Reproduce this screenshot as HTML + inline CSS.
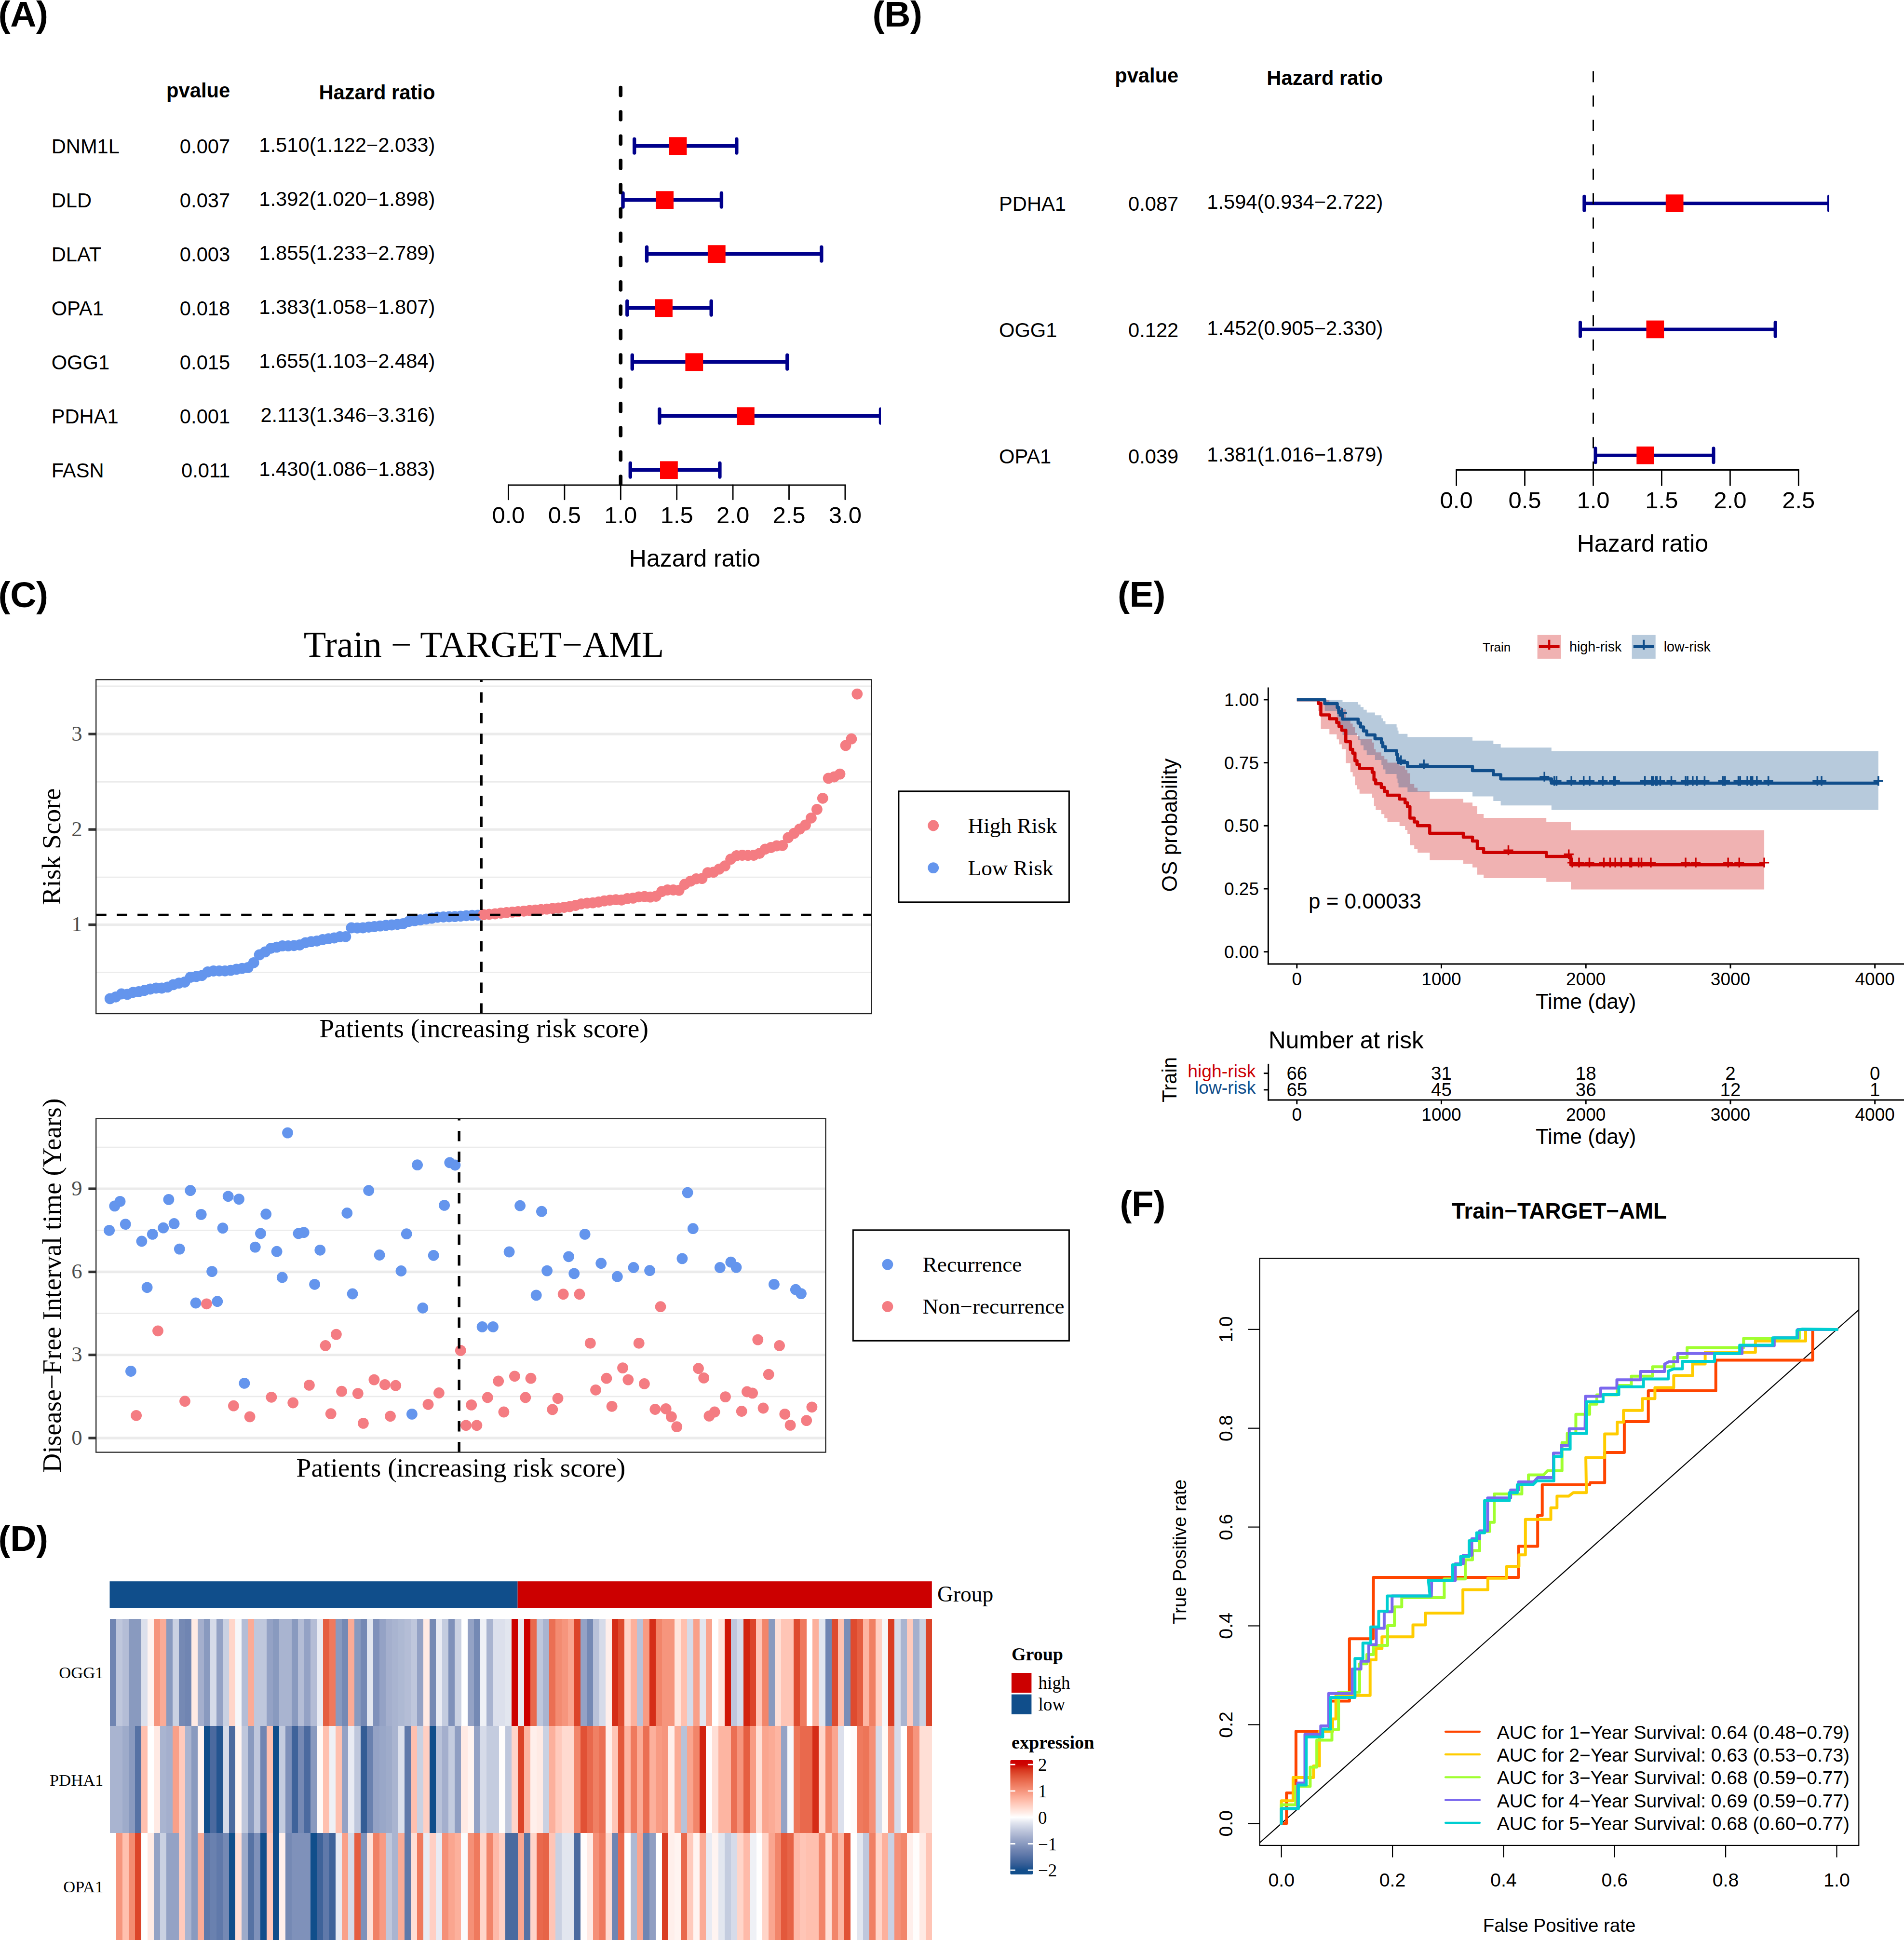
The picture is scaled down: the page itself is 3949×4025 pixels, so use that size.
<!DOCTYPE html>
<html lang="en"><head><meta charset="utf-8"><title>Figure</title>
<style>
html,body{margin:0;padding:0;background:#fff}
svg{display:block}
.ss{font-family:"Liberation Sans", Arial, Helvetica, sans-serif}
.sf{font-family:"Liberation Serif", "Times New Roman", Times, serif}
</style></head><body>
<svg width="3949" height="4025" viewBox="0 0 3949 4025">
<rect width="3949" height="4025" fill="#fff"/>
<g id="panelA">
<text class="ss" x="-3.5" y="55" font-size="75" font-weight="bold" letter-spacing="-0.3">(A)</text>
<text class="ss" x="477.2" y="201.6" font-size="41.7" text-anchor="end" font-weight="bold">pvalue</text>
<text class="ss" x="902.4" y="206" font-size="41.7" text-anchor="end" font-weight="bold">Hazard ratio</text>
<text class="ss" x="106.7" y="318" font-size="41.7">DNM1L</text>
<text class="ss" x="477.2" y="318" font-size="41.7" text-anchor="end">0.007</text>
<text class="ss" x="902.4" y="314.5" font-size="41.7" text-anchor="end">1.510(1.122−2.033)</text>
<text class="ss" x="106.7" y="430" font-size="41.7">DLD</text>
<text class="ss" x="477.2" y="430" font-size="41.7" text-anchor="end">0.037</text>
<text class="ss" x="902.4" y="426.5" font-size="41.7" text-anchor="end">1.392(1.020−1.898)</text>
<text class="ss" x="106.7" y="542" font-size="41.7">DLAT</text>
<text class="ss" x="477.2" y="542" font-size="41.7" text-anchor="end">0.003</text>
<text class="ss" x="902.4" y="538.5" font-size="41.7" text-anchor="end">1.855(1.233−2.789)</text>
<text class="ss" x="106.7" y="654" font-size="41.7">OPA1</text>
<text class="ss" x="477.2" y="654" font-size="41.7" text-anchor="end">0.018</text>
<text class="ss" x="902.4" y="650.5" font-size="41.7" text-anchor="end">1.383(1.058−1.807)</text>
<text class="ss" x="106.7" y="766" font-size="41.7">OGG1</text>
<text class="ss" x="477.2" y="766" font-size="41.7" text-anchor="end">0.015</text>
<text class="ss" x="902.4" y="762.5" font-size="41.7" text-anchor="end">1.655(1.103−2.484)</text>
<text class="ss" x="106.7" y="878" font-size="41.7">PDHA1</text>
<text class="ss" x="477.2" y="878" font-size="41.7" text-anchor="end">0.001</text>
<text class="ss" x="902.4" y="874.5" font-size="41.7" text-anchor="end">2.113(1.346−3.316)</text>
<text class="ss" x="106.7" y="990" font-size="41.7">FASN</text>
<text class="ss" x="477.2" y="990" font-size="41.7" text-anchor="end">0.011</text>
<text class="ss" x="902.4" y="986.5" font-size="41.7" text-anchor="end">1.430(1.086−1.883)</text>
<line x1="1054.5" y1="1005.8" x2="1752.9" y2="1005.8" stroke="#000" stroke-width="2.8" stroke-linecap="round"/>
<line x1="1054.5" y1="1005.8" x2="1054.5" y2="1035.8" stroke="#000" stroke-width="2.8" stroke-linecap="round"/>
<text class="ss" x="1054.5" y="1084.6" font-size="49" text-anchor="middle">0.0</text>
<line x1="1170.9" y1="1005.8" x2="1170.9" y2="1035.8" stroke="#000" stroke-width="2.8" stroke-linecap="round"/>
<text class="ss" x="1170.9" y="1084.6" font-size="49" text-anchor="middle">0.5</text>
<line x1="1287.3" y1="1005.8" x2="1287.3" y2="1035.8" stroke="#000" stroke-width="2.8" stroke-linecap="round"/>
<text class="ss" x="1287.3" y="1084.6" font-size="49" text-anchor="middle">1.0</text>
<line x1="1403.7" y1="1005.8" x2="1403.7" y2="1035.8" stroke="#000" stroke-width="2.8" stroke-linecap="round"/>
<text class="ss" x="1403.7" y="1084.6" font-size="49" text-anchor="middle">1.5</text>
<line x1="1520.1" y1="1005.8" x2="1520.1" y2="1035.8" stroke="#000" stroke-width="2.8" stroke-linecap="round"/>
<text class="ss" x="1520.1" y="1084.6" font-size="49" text-anchor="middle">2.0</text>
<line x1="1636.5" y1="1005.8" x2="1636.5" y2="1035.8" stroke="#000" stroke-width="2.8" stroke-linecap="round"/>
<text class="ss" x="1636.5" y="1084.6" font-size="49" text-anchor="middle">2.5</text>
<line x1="1752.9" y1="1005.8" x2="1752.9" y2="1035.8" stroke="#000" stroke-width="2.8" stroke-linecap="round"/>
<text class="ss" x="1752.9" y="1084.6" font-size="49" text-anchor="middle">3.0</text>
<text class="ss" x="1441" y="1175.4" font-size="50" text-anchor="middle">Hazard ratio</text>
<clipPath id="clip1054"><rect x="0" y="0" width="1827.1" height="4025"/></clipPath><g clip-path="url(#clip1054)">
<path d="M1315.7 302.7 H1527.8 M1315.7 288.4 V317 M1527.8 288.4 V317" fill="none" stroke="#00008B" stroke-width="7.4" stroke-linecap="round"/>
<path d="M1292 414.7 H1496.4 M1292 400.4 V429 M1496.4 400.4 V429" fill="none" stroke="#00008B" stroke-width="7.4" stroke-linecap="round"/>
<path d="M1341.5 526.7 H1703.8 M1341.5 512.4 V541 M1703.8 512.4 V541" fill="none" stroke="#00008B" stroke-width="7.4" stroke-linecap="round"/>
<path d="M1300.8 638.8 H1475.2 M1300.8 624.5 V653.1 M1475.2 624.5 V653.1" fill="none" stroke="#00008B" stroke-width="7.4" stroke-linecap="round"/>
<path d="M1311.3 750.8 H1632.8 M1311.3 736.5 V765.1 M1632.8 736.5 V765.1" fill="none" stroke="#00008B" stroke-width="7.4" stroke-linecap="round"/>
<path d="M1367.8 862.8 H1826.5 M1367.8 848.5 V877.1 M1826.5 848.5 V877.1" fill="none" stroke="#00008B" stroke-width="7.4" stroke-linecap="round"/>
<path d="M1307.3 974.8 H1492.9 M1307.3 960.5 V989.1 M1492.9 960.5 V989.1" fill="none" stroke="#00008B" stroke-width="7.4" stroke-linecap="round"/>
</g>
<line x1="1287.3" y1="181.5" x2="1287.3" y2="1005" stroke="#000" stroke-width="7.5" stroke-dasharray="16.2 34.2" stroke-linecap="round"/>
<rect x="1387.6" y="284.3" width="36.8" height="36.8" fill="#FF0000"/>
<rect x="1360.2" y="396.3" width="36.8" height="36.8" fill="#FF0000"/>
<rect x="1467.9" y="508.3" width="36.8" height="36.8" fill="#FF0000"/>
<rect x="1358.1" y="620.4" width="36.8" height="36.8" fill="#FF0000"/>
<rect x="1421.4" y="732.4" width="36.8" height="36.8" fill="#FF0000"/>
<rect x="1528" y="844.4" width="36.8" height="36.8" fill="#FF0000"/>
<rect x="1369" y="956.4" width="36.8" height="36.8" fill="#FF0000"/>
</g>
<g id="panelB">
<text class="ss" x="1809.5" y="55" font-size="75" font-weight="bold" letter-spacing="-0.3">(B)</text>
<text class="ss" x="2444.3" y="171" font-size="41.7" text-anchor="end" font-weight="bold">pvalue</text>
<text class="ss" x="2868.3" y="175.6" font-size="41.7" text-anchor="end" font-weight="bold">Hazard ratio</text>
<text class="ss" x="2072" y="437" font-size="41.7">PDHA1</text>
<text class="ss" x="2444.3" y="437" font-size="41.7" text-anchor="end">0.087</text>
<text class="ss" x="2868.3" y="433" font-size="41.7" text-anchor="end">1.594(0.934−2.722)</text>
<text class="ss" x="2072" y="699" font-size="41.7">OGG1</text>
<text class="ss" x="2444.3" y="699" font-size="41.7" text-anchor="end">0.122</text>
<text class="ss" x="2868.3" y="695" font-size="41.7" text-anchor="end">1.452(0.905−2.330)</text>
<text class="ss" x="2072" y="961" font-size="41.7">OPA1</text>
<text class="ss" x="2444.3" y="961" font-size="41.7" text-anchor="end">0.039</text>
<text class="ss" x="2868.3" y="957" font-size="41.7" text-anchor="end">1.381(1.016−1.879)</text>
<line x1="3020.6" y1="974.5" x2="3730.3" y2="974.5" stroke="#000" stroke-width="2.8" stroke-linecap="round"/>
<line x1="3020.6" y1="974.5" x2="3020.6" y2="1006.5" stroke="#000" stroke-width="2.8" stroke-linecap="round"/>
<text class="ss" x="3020.6" y="1053.9" font-size="49" text-anchor="middle">0.0</text>
<line x1="3162.5" y1="974.5" x2="3162.5" y2="1006.5" stroke="#000" stroke-width="2.8" stroke-linecap="round"/>
<text class="ss" x="3162.5" y="1053.9" font-size="49" text-anchor="middle">0.5</text>
<line x1="3304.5" y1="974.5" x2="3304.5" y2="1006.5" stroke="#000" stroke-width="2.8" stroke-linecap="round"/>
<text class="ss" x="3304.5" y="1053.9" font-size="49" text-anchor="middle">1.0</text>
<line x1="3446.4" y1="974.5" x2="3446.4" y2="1006.5" stroke="#000" stroke-width="2.8" stroke-linecap="round"/>
<text class="ss" x="3446.4" y="1053.9" font-size="49" text-anchor="middle">1.5</text>
<line x1="3588.4" y1="974.5" x2="3588.4" y2="1006.5" stroke="#000" stroke-width="2.8" stroke-linecap="round"/>
<text class="ss" x="3588.4" y="1053.9" font-size="49" text-anchor="middle">2.0</text>
<line x1="3730.3" y1="974.5" x2="3730.3" y2="1006.5" stroke="#000" stroke-width="2.8" stroke-linecap="round"/>
<text class="ss" x="3730.3" y="1053.9" font-size="49" text-anchor="middle">2.5</text>
<text class="ss" x="3406.9" y="1143.9" font-size="50" text-anchor="middle">Hazard ratio</text>
<clipPath id="clip3020"><rect x="0" y="0" width="3794" height="4025"/></clipPath><g clip-path="url(#clip3020)">
<path d="M3285.8 421.7 H3793.4 M3285.8 407.2 V436.2 M3793.4 407.2 V436.2" fill="none" stroke="#00008B" stroke-width="7" stroke-linecap="round"/>
<path d="M3277.5 683 H3682.1 M3277.5 668.5 V697.5 M3682.1 668.5 V697.5" fill="none" stroke="#00008B" stroke-width="7" stroke-linecap="round"/>
<path d="M3309 944.3 H3554 M3309 929.8 V958.8 M3554 929.8 V958.8" fill="none" stroke="#00008B" stroke-width="7" stroke-linecap="round"/>
</g>
<line x1="3304.5" y1="147.4" x2="3304.5" y2="974.5" stroke="#000" stroke-width="3" stroke-dasharray="23 27.6" stroke-linecap="butt"/>
<rect x="3454.8" y="403.3" width="36.7" height="36.7" fill="#FF0000"/>
<rect x="3414.5" y="664.6" width="36.7" height="36.7" fill="#FF0000"/>
<rect x="3394.3" y="925.9" width="36.7" height="36.7" fill="#FF0000"/>
</g>
<g id="panelC">
<text class="ss" x="-3.5" y="1258.5" font-size="75" font-weight="bold" letter-spacing="-0.3">(C)</text>
<line x1="199.2" y1="1422.8" x2="1807.7" y2="1422.8" stroke="#EBEBEB" stroke-width="2.7"/>
<line x1="199.2" y1="1621.3" x2="1807.7" y2="1621.3" stroke="#EBEBEB" stroke-width="2.7"/>
<line x1="199.2" y1="1819" x2="1807.7" y2="1819" stroke="#EBEBEB" stroke-width="2.7"/>
<line x1="199.2" y1="2016.4" x2="1807.7" y2="2016.4" stroke="#EBEBEB" stroke-width="2.7"/>
<line x1="199.2" y1="1522.2" x2="1807.7" y2="1522.2" stroke="#EBEBEB" stroke-width="5.4"/>
<line x1="199.2" y1="1720.1" x2="1807.7" y2="1720.1" stroke="#EBEBEB" stroke-width="5.4"/>
<line x1="199.2" y1="1917.6" x2="1807.7" y2="1917.6" stroke="#EBEBEB" stroke-width="5.4"/>
<line x1="183.4" y1="1522.2" x2="199.2" y2="1522.2" stroke="#333333" stroke-width="5.4"/>
<text class="sf" x="170.5" y="1536" font-size="44.7" text-anchor="end" fill="#4D4D4D">3</text>
<line x1="183.4" y1="1720.1" x2="199.2" y2="1720.1" stroke="#333333" stroke-width="5.4"/>
<text class="sf" x="170.5" y="1733.9" font-size="44.7" text-anchor="end" fill="#4D4D4D">2</text>
<line x1="183.4" y1="1917.6" x2="199.2" y2="1917.6" stroke="#333333" stroke-width="5.4"/>
<text class="sf" x="170.5" y="1931.4" font-size="44.7" text-anchor="end" fill="#4D4D4D">1</text>
<g fill="#6495ED"><circle cx="228.2" cy="2070.9" r="11.4"/><circle cx="240.1" cy="2067.3" r="11.4"/><circle cx="252" cy="2061" r="11.4"/><circle cx="264" cy="2061.9" r="11.4"/><circle cx="275.9" cy="2057.8" r="11.4"/><circle cx="287.8" cy="2056.4" r="11.4"/><circle cx="299.7" cy="2053.7" r="11.4"/><circle cx="311.6" cy="2051" r="11.4"/><circle cx="323.6" cy="2049" r="11.4"/><circle cx="335.5" cy="2049" r="11.4"/><circle cx="347.4" cy="2046.9" r="11.4"/><circle cx="359.3" cy="2041.9" r="11.4"/><circle cx="371.2" cy="2038.7" r="11.4"/><circle cx="383.2" cy="2036.5" r="11.4"/><circle cx="395.1" cy="2026.4" r="11.4"/><circle cx="407" cy="2025" r="11.4"/><circle cx="418.9" cy="2022.8" r="11.4"/><circle cx="430.8" cy="2015.4" r="11.4"/><circle cx="442.8" cy="2013.5" r="11.4"/><circle cx="454.7" cy="2013.3" r="11.4"/><circle cx="466.6" cy="2013.3" r="11.4"/><circle cx="478.5" cy="2012.2" r="11.4"/><circle cx="490.4" cy="2010" r="11.4"/><circle cx="502.4" cy="2008.1" r="11.4"/><circle cx="514.3" cy="2006.4" r="11.4"/><circle cx="526.2" cy="1996.3" r="11.4"/><circle cx="538.1" cy="1979.9" r="11.4"/><circle cx="550" cy="1973.9" r="11.4"/><circle cx="562" cy="1966.3" r="11.4"/><circle cx="573.9" cy="1964.1" r="11.4"/><circle cx="585.8" cy="1961.4" r="11.4"/><circle cx="597.7" cy="1961.4" r="11.4"/><circle cx="609.6" cy="1960.8" r="11.4"/><circle cx="621.6" cy="1959.5" r="11.4"/><circle cx="633.5" cy="1954.8" r="11.4"/><circle cx="645.4" cy="1952.6" r="11.4"/><circle cx="657.3" cy="1951.3" r="11.4"/><circle cx="669.2" cy="1948.5" r="11.4"/><circle cx="681.2" cy="1946.6" r="11.4"/><circle cx="693.1" cy="1945" r="11.4"/><circle cx="705" cy="1942.5" r="11.4"/><circle cx="716.9" cy="1942.3" r="11.4"/><circle cx="728.8" cy="1924" r="11.4"/><circle cx="740.8" cy="1924.3" r="11.4"/><circle cx="752.7" cy="1924" r="11.4"/><circle cx="764.6" cy="1922.5" r="11.4"/><circle cx="776.5" cy="1921.5" r="11.4"/><circle cx="788.4" cy="1920.2" r="11.4"/><circle cx="800.4" cy="1919" r="11.4"/><circle cx="812.3" cy="1918" r="11.4"/><circle cx="824.2" cy="1916.8" r="11.4"/><circle cx="836.1" cy="1915.5" r="11.4"/><circle cx="848" cy="1910.6" r="11.4"/><circle cx="860" cy="1909.2" r="11.4"/><circle cx="871.9" cy="1907.5" r="11.4"/><circle cx="883.8" cy="1905.8" r="11.4"/><circle cx="895.7" cy="1904" r="11.4"/><circle cx="907.6" cy="1902" r="11.4"/><circle cx="919.6" cy="1901.5" r="11.4"/><circle cx="931.5" cy="1901" r="11.4"/><circle cx="943.4" cy="1900.7" r="11.4"/><circle cx="955.3" cy="1899.8" r="11.4"/><circle cx="967.2" cy="1898.8" r="11.4"/><circle cx="979.2" cy="1898.2" r="11.4"/><circle cx="991.1" cy="1897.8" r="11.4"/></g>
<g fill="#F47C82"><circle cx="1003" cy="1896.6" r="11.4"/><circle cx="1014.9" cy="1896" r="11.4"/><circle cx="1026.8" cy="1895" r="11.4"/><circle cx="1038.8" cy="1893.5" r="11.4"/><circle cx="1050.7" cy="1892.4" r="11.4"/><circle cx="1062.6" cy="1891.4" r="11.4"/><circle cx="1074.5" cy="1890.3" r="11.4"/><circle cx="1086.4" cy="1889.3" r="11.4"/><circle cx="1098.4" cy="1888.2" r="11.4"/><circle cx="1110.3" cy="1887.2" r="11.4"/><circle cx="1122.2" cy="1886.1" r="11.4"/><circle cx="1134.1" cy="1885.1" r="11.4"/><circle cx="1146" cy="1884" r="11.4"/><circle cx="1158" cy="1883" r="11.4"/><circle cx="1169.9" cy="1881.5" r="11.4"/><circle cx="1181.8" cy="1880" r="11.4"/><circle cx="1193.7" cy="1877.5" r="11.4"/><circle cx="1205.6" cy="1874.3" r="11.4"/><circle cx="1217.6" cy="1872.8" r="11.4"/><circle cx="1229.5" cy="1872.2" r="11.4"/><circle cx="1241.4" cy="1870.5" r="11.4"/><circle cx="1253.3" cy="1868.2" r="11.4"/><circle cx="1265.2" cy="1866.6" r="11.4"/><circle cx="1277.2" cy="1865.6" r="11.4"/><circle cx="1289.1" cy="1866.3" r="11.4"/><circle cx="1301" cy="1863.4" r="11.4"/><circle cx="1312.9" cy="1862.4" r="11.4"/><circle cx="1324.8" cy="1859.8" r="11.4"/><circle cx="1336.8" cy="1859.1" r="11.4"/><circle cx="1348.7" cy="1860.1" r="11.4"/><circle cx="1360.6" cy="1858.5" r="11.4"/><circle cx="1372.5" cy="1848.7" r="11.4"/><circle cx="1384.4" cy="1845.5" r="11.4"/><circle cx="1396.4" cy="1845.5" r="11.4"/><circle cx="1408.3" cy="1846.1" r="11.4"/><circle cx="1420.2" cy="1833.7" r="11.4"/><circle cx="1432.1" cy="1827.2" r="11.4"/><circle cx="1444" cy="1822.3" r="11.4"/><circle cx="1456" cy="1821.7" r="11.4"/><circle cx="1467.9" cy="1809.6" r="11.4"/><circle cx="1479.8" cy="1808.7" r="11.4"/><circle cx="1491.7" cy="1802.1" r="11.4"/><circle cx="1503.6" cy="1795.6" r="11.4"/><circle cx="1515.6" cy="1781.6" r="11.4"/><circle cx="1527.5" cy="1774.5" r="11.4"/><circle cx="1539.4" cy="1773.5" r="11.4"/><circle cx="1551.3" cy="1773.8" r="11.4"/><circle cx="1563.2" cy="1773.5" r="11.4"/><circle cx="1575.2" cy="1769.6" r="11.4"/><circle cx="1587.1" cy="1760.8" r="11.4"/><circle cx="1599" cy="1757.5" r="11.4"/><circle cx="1610.9" cy="1754" r="11.4"/><circle cx="1622.8" cy="1753.3" r="11.4"/><circle cx="1634.8" cy="1737" r="11.4"/><circle cx="1646.7" cy="1728.2" r="11.4"/><circle cx="1658.6" cy="1719.1" r="11.4"/><circle cx="1670.5" cy="1711" r="11.4"/><circle cx="1682.4" cy="1696.3" r="11.4"/><circle cx="1694.4" cy="1678.4" r="11.4"/><circle cx="1706.3" cy="1655.3" r="11.4"/><circle cx="1718.2" cy="1613.9" r="11.4"/><circle cx="1730.1" cy="1611" r="11.4"/><circle cx="1742" cy="1605.1" r="11.4"/><circle cx="1754" cy="1545.9" r="11.4"/><circle cx="1765.9" cy="1532.2" r="11.4"/><circle cx="1777.8" cy="1439.1" r="11.4"/></g>
<line x1="199.2" y1="1897.4" x2="1807.7" y2="1897.4" stroke="#000" stroke-width="5.4" stroke-dasharray="21.5 21.5"/>
<line x1="998.2" y1="2102" x2="998.2" y2="1409.3" stroke="#000" stroke-width="5.4" stroke-dasharray="21.5 21.5"/>
<rect x="199.2" y="1409.3" width="1608.5" height="692.7" fill="none" stroke="#222222" stroke-width="2.3"/>
<text class="sf" x="1003.5" y="1362" font-size="76.1" text-anchor="middle">Train − TARGET−AML</text>
<text class="sf" x="1003.5" y="2150.8" font-size="55.5" text-anchor="middle">Patients (increasing risk score)</text>
<text class="sf" font-size="55.5" text-anchor="middle" transform="translate(124.5 1755.7) rotate(-90)">Risk Score</text>
<rect x="1863.9" y="1640.8" width="353.5" height="230" fill="#fff" stroke="#000" stroke-width="3"/>
<circle cx="1935.7" cy="1712" r="11.4" fill="#F47C82"/>
<circle cx="1935.7" cy="1799.6" r="11.4" fill="#6495ED"/>
<text class="sf" x="2007.6" y="1727" font-size="45.2">High Risk</text>
<text class="sf" x="2007.6" y="1814.7" font-size="45.2">Low Risk</text>
<line x1="199.2" y1="2379.1" x2="1712.5" y2="2379.1" stroke="#EBEBEB" stroke-width="2.7"/>
<line x1="199.2" y1="2551.4" x2="1712.5" y2="2551.4" stroke="#EBEBEB" stroke-width="2.7"/>
<line x1="199.2" y1="2723.6" x2="1712.5" y2="2723.6" stroke="#EBEBEB" stroke-width="2.7"/>
<line x1="199.2" y1="2895.8" x2="1712.5" y2="2895.8" stroke="#EBEBEB" stroke-width="2.7"/>
<line x1="199.2" y1="2465.1" x2="1712.5" y2="2465.1" stroke="#EBEBEB" stroke-width="5.4"/>
<line x1="199.2" y1="2637.5" x2="1712.5" y2="2637.5" stroke="#EBEBEB" stroke-width="5.4"/>
<line x1="199.2" y1="2809.6" x2="1712.5" y2="2809.6" stroke="#EBEBEB" stroke-width="5.4"/>
<line x1="199.2" y1="2982" x2="1712.5" y2="2982" stroke="#EBEBEB" stroke-width="5.4"/>
<line x1="183.4" y1="2465.1" x2="199.2" y2="2465.1" stroke="#333333" stroke-width="5.4"/>
<text class="sf" x="170.5" y="2478.9" font-size="44.7" text-anchor="end" fill="#4D4D4D">9</text>
<line x1="183.4" y1="2637.5" x2="199.2" y2="2637.5" stroke="#333333" stroke-width="5.4"/>
<text class="sf" x="170.5" y="2651.3" font-size="44.7" text-anchor="end" fill="#4D4D4D">6</text>
<line x1="183.4" y1="2809.6" x2="199.2" y2="2809.6" stroke="#333333" stroke-width="5.4"/>
<text class="sf" x="170.5" y="2823.4" font-size="44.7" text-anchor="end" fill="#4D4D4D">3</text>
<line x1="183.4" y1="2982" x2="199.2" y2="2982" stroke="#333333" stroke-width="5.4"/>
<text class="sf" x="170.5" y="2995.8" font-size="44.7" text-anchor="end" fill="#4D4D4D">0</text>
<g><circle cx="226.6" cy="2551.4" r="11.4" fill="#6495ED"/><circle cx="237.8" cy="2500.9" r="11.4" fill="#6495ED"/><circle cx="249" cy="2491.4" r="11.4" fill="#6495ED"/><circle cx="260.2" cy="2538.6" r="11.4" fill="#6495ED"/><circle cx="271.4" cy="2843.5" r="11.4" fill="#6495ED"/><circle cx="282.6" cy="2935.3" r="11.4" fill="#F47C82"/><circle cx="293.9" cy="2574" r="11.4" fill="#6495ED"/><circle cx="305.1" cy="2669.8" r="11.4" fill="#6495ED"/><circle cx="316.3" cy="2559.4" r="11.4" fill="#6495ED"/><circle cx="327.5" cy="2759.8" r="11.4" fill="#F47C82"/><circle cx="338.7" cy="2546.2" r="11.4" fill="#6495ED"/><circle cx="349.9" cy="2487.4" r="11.4" fill="#6495ED"/><circle cx="361.1" cy="2537.5" r="11.4" fill="#6495ED"/><circle cx="372.3" cy="2590.1" r="11.4" fill="#6495ED"/><circle cx="383.5" cy="2905.7" r="11.4" fill="#F47C82"/><circle cx="394.8" cy="2468.7" r="11.4" fill="#6495ED"/><circle cx="406" cy="2702" r="11.4" fill="#6495ED"/><circle cx="417.2" cy="2518.4" r="11.4" fill="#6495ED"/><circle cx="428.4" cy="2703.8" r="11.4" fill="#F47C82"/><circle cx="439.6" cy="2636.6" r="11.4" fill="#6495ED"/><circle cx="450.8" cy="2698.7" r="11.4" fill="#6495ED"/><circle cx="462" cy="2546.6" r="11.4" fill="#6495ED"/><circle cx="473.2" cy="2480.8" r="11.4" fill="#6495ED"/><circle cx="484.4" cy="2915.2" r="11.4" fill="#F47C82"/><circle cx="495.6" cy="2486.6" r="11.4" fill="#6495ED"/><circle cx="506.9" cy="2868.4" r="11.4" fill="#6495ED"/><circle cx="518.1" cy="2937.9" r="11.4" fill="#F47C82"/><circle cx="529.3" cy="2586.1" r="11.4" fill="#6495ED"/><circle cx="540.5" cy="2557.9" r="11.4" fill="#6495ED"/><circle cx="551.7" cy="2517.7" r="11.4" fill="#6495ED"/><circle cx="562.9" cy="2897.3" r="11.4" fill="#F47C82"/><circle cx="574.1" cy="2595.2" r="11.4" fill="#6495ED"/><circle cx="585.3" cy="2649" r="11.4" fill="#6495ED"/><circle cx="596.5" cy="2349.1" r="11.4" fill="#6495ED"/><circle cx="607.7" cy="2909" r="11.4" fill="#F47C82"/><circle cx="619" cy="2557.9" r="11.4" fill="#6495ED"/><circle cx="630.2" cy="2555.7" r="11.4" fill="#6495ED"/><circle cx="641.4" cy="2872.4" r="11.4" fill="#F47C82"/><circle cx="652.6" cy="2663.3" r="11.4" fill="#6495ED"/><circle cx="663.8" cy="2592.3" r="11.4" fill="#6495ED"/><circle cx="675" cy="2790.5" r="11.4" fill="#F47C82"/><circle cx="686.2" cy="2931.7" r="11.4" fill="#F47C82"/><circle cx="697.4" cy="2767.1" r="11.4" fill="#F47C82"/><circle cx="708.6" cy="2885.2" r="11.4" fill="#F47C82"/><circle cx="719.8" cy="2515.5" r="11.4" fill="#6495ED"/><circle cx="731.1" cy="2683" r="11.4" fill="#6495ED"/><circle cx="742.3" cy="2889.6" r="11.4" fill="#F47C82"/><circle cx="753.5" cy="2951.4" r="11.4" fill="#F47C82"/><circle cx="764.7" cy="2468.7" r="11.4" fill="#6495ED"/><circle cx="775.9" cy="2861.1" r="11.4" fill="#F47C82"/><circle cx="787.1" cy="2602.5" r="11.4" fill="#6495ED"/><circle cx="798.3" cy="2871.3" r="11.4" fill="#F47C82"/><circle cx="809.5" cy="2936.8" r="11.4" fill="#F47C82"/><circle cx="820.7" cy="2873.2" r="11.4" fill="#F47C82"/><circle cx="831.9" cy="2635.5" r="11.4" fill="#6495ED"/><circle cx="843.2" cy="2558.7" r="11.4" fill="#6495ED"/><circle cx="854.4" cy="2932.4" r="11.4" fill="#6495ED"/><circle cx="865.6" cy="2415.7" r="11.4" fill="#6495ED"/><circle cx="876.8" cy="2712.3" r="11.4" fill="#6495ED"/><circle cx="888" cy="2912.3" r="11.4" fill="#F47C82"/><circle cx="899.2" cy="2603.3" r="11.4" fill="#6495ED"/><circle cx="910.4" cy="2888.5" r="11.4" fill="#F47C82"/><circle cx="921.6" cy="2499.4" r="11.4" fill="#6495ED"/><circle cx="932.8" cy="2410.9" r="11.4" fill="#6495ED"/><circle cx="944" cy="2416" r="11.4" fill="#6495ED"/><circle cx="955.3" cy="2800.4" r="11.4" fill="#F47C82"/><circle cx="966.5" cy="2955.8" r="11.4" fill="#F47C82"/><circle cx="977.7" cy="2913.4" r="11.4" fill="#F47C82"/><circle cx="988.9" cy="2955.8" r="11.4" fill="#F47C82"/><circle cx="1000.1" cy="2751.4" r="11.4" fill="#6495ED"/><circle cx="1011.3" cy="2898" r="11.4" fill="#F47C82"/><circle cx="1022.5" cy="2751.4" r="11.4" fill="#6495ED"/><circle cx="1033.7" cy="2864" r="11.4" fill="#F47C82"/><circle cx="1044.9" cy="2928" r="11.4" fill="#F47C82"/><circle cx="1056.1" cy="2596" r="11.4" fill="#6495ED"/><circle cx="1067.4" cy="2853.8" r="11.4" fill="#F47C82"/><circle cx="1078.6" cy="2500.2" r="11.4" fill="#6495ED"/><circle cx="1089.8" cy="2898" r="11.4" fill="#F47C82"/><circle cx="1101" cy="2858.2" r="11.4" fill="#F47C82"/><circle cx="1112.2" cy="2685.9" r="11.4" fill="#6495ED"/><circle cx="1123.4" cy="2512.2" r="11.4" fill="#6495ED"/><circle cx="1134.6" cy="2635.1" r="11.4" fill="#6495ED"/><circle cx="1145.8" cy="2922.9" r="11.4" fill="#F47C82"/><circle cx="1157" cy="2899.8" r="11.4" fill="#F47C82"/><circle cx="1168.2" cy="2683.7" r="11.4" fill="#F47C82"/><circle cx="1179.5" cy="2605.8" r="11.4" fill="#6495ED"/><circle cx="1190.7" cy="2640.9" r="11.4" fill="#6495ED"/><circle cx="1201.9" cy="2683.7" r="11.4" fill="#F47C82"/><circle cx="1213.1" cy="2559.4" r="11.4" fill="#6495ED"/><circle cx="1224.3" cy="2785.4" r="11.4" fill="#F47C82"/><circle cx="1235.5" cy="2882.3" r="11.4" fill="#F47C82"/><circle cx="1246.7" cy="2619.7" r="11.4" fill="#6495ED"/><circle cx="1257.9" cy="2858.2" r="11.4" fill="#F47C82"/><circle cx="1269.1" cy="2916.3" r="11.4" fill="#F47C82"/><circle cx="1280.3" cy="2647.2" r="11.4" fill="#6495ED"/><circle cx="1291.5" cy="2836.6" r="11.4" fill="#F47C82"/><circle cx="1302.8" cy="2861.1" r="11.4" fill="#F47C82"/><circle cx="1314" cy="2628.5" r="11.4" fill="#6495ED"/><circle cx="1325.2" cy="2785.4" r="11.4" fill="#F47C82"/><circle cx="1336.4" cy="2869.5" r="11.4" fill="#F47C82"/><circle cx="1347.6" cy="2634.7" r="11.4" fill="#6495ED"/><circle cx="1358.8" cy="2922.5" r="11.4" fill="#F47C82"/><circle cx="1370" cy="2709.7" r="11.4" fill="#F47C82"/><circle cx="1381.2" cy="2921.4" r="11.4" fill="#F47C82"/><circle cx="1392.4" cy="2937.9" r="11.4" fill="#F47C82"/><circle cx="1403.7" cy="2958.7" r="11.4" fill="#F47C82"/><circle cx="1414.9" cy="2609.9" r="11.4" fill="#6495ED"/><circle cx="1426.1" cy="2473.1" r="11.4" fill="#6495ED"/><circle cx="1437.3" cy="2547.7" r="11.4" fill="#6495ED"/><circle cx="1448.5" cy="2837.7" r="11.4" fill="#F47C82"/><circle cx="1459.7" cy="2857.4" r="11.4" fill="#F47C82"/><circle cx="1470.9" cy="2936.4" r="11.4" fill="#F47C82"/><circle cx="1482.1" cy="2928" r="11.4" fill="#F47C82"/><circle cx="1493.3" cy="2628.5" r="11.4" fill="#6495ED"/><circle cx="1504.5" cy="2896.6" r="11.4" fill="#F47C82"/><circle cx="1515.8" cy="2617.2" r="11.4" fill="#6495ED"/><circle cx="1527" cy="2628.1" r="11.4" fill="#6495ED"/><circle cx="1538.2" cy="2926.5" r="11.4" fill="#F47C82"/><circle cx="1549.4" cy="2886" r="11.4" fill="#F47C82"/><circle cx="1560.6" cy="2888.9" r="11.4" fill="#F47C82"/><circle cx="1571.8" cy="2778.1" r="11.4" fill="#F47C82"/><circle cx="1583" cy="2920" r="11.4" fill="#F47C82"/><circle cx="1594.2" cy="2850.1" r="11.4" fill="#F47C82"/><circle cx="1605.4" cy="2663.3" r="11.4" fill="#6495ED"/><circle cx="1616.6" cy="2790.5" r="11.4" fill="#F47C82"/><circle cx="1627.8" cy="2932.4" r="11.4" fill="#F47C82"/><circle cx="1639.1" cy="2955.4" r="11.4" fill="#F47C82"/><circle cx="1650.3" cy="2674.2" r="11.4" fill="#6495ED"/><circle cx="1661.5" cy="2682.6" r="11.4" fill="#6495ED"/><circle cx="1672.7" cy="2945.6" r="11.4" fill="#F47C82"/><circle cx="1683.9" cy="2917.8" r="11.4" fill="#F47C82"/></g>
<line x1="952.2" y1="3011.5" x2="952.2" y2="2319.8" stroke="#000" stroke-width="5.4" stroke-dasharray="21.5 21.5"/>
<rect x="199.2" y="2319.8" width="1513.3" height="691.7" fill="none" stroke="#222222" stroke-width="2.3"/>
<text class="sf" x="955.9" y="3062.2" font-size="55.5" text-anchor="middle">Patients (increasing risk score)</text>
<text class="sf" font-size="55.5" text-anchor="middle" transform="translate(126 2665.7) rotate(-90)">Disease−Free Interval time (Years)</text>
<rect x="1769.3" y="2550.8" width="448.1" height="229.5" fill="#fff" stroke="#000" stroke-width="3"/>
<circle cx="1840.9" cy="2622.1" r="11.4" fill="#6495ED"/>
<circle cx="1840.9" cy="2709.4" r="11.4" fill="#F47C82"/>
<text class="sf" x="1913.7" y="2636.6" font-size="45.2">Recurrence</text>
<text class="sf" x="1913.7" y="2724.2" font-size="45.2">Non−recurrence</text>
</g>
<g id="panelD">
<text class="ss" x="-3.5" y="3216" font-size="75" font-weight="bold" letter-spacing="-0.3">(D)</text>
<rect x="227.5" y="3279.2" width="846.1" height="55.5" fill="#104E8B"/>
<rect x="1073.6" y="3279.2" width="859.2" height="55.5" fill="#CC0000"/>
<g shape-rendering="crispEdges">
<rect x="227.50" y="3356.7" width="13.32" height="222.7" fill="#7085B2"/>
<rect x="240.52" y="3356.7" width="13.32" height="222.7" fill="#BFC7DC"/>
<rect x="253.54" y="3356.7" width="13.32" height="222.7" fill="#B4BDD6"/>
<rect x="266.55" y="3356.7" width="26.34" height="222.7" fill="#899ABF"/>
<rect x="292.59" y="3356.7" width="13.32" height="222.7" fill="#DCE0EC"/>
<rect x="305.61" y="3356.7" width="13.32" height="222.7" fill="#FFF4F1"/>
<rect x="318.62" y="3356.7" width="13.32" height="222.7" fill="#F6957D"/>
<rect x="331.64" y="3356.7" width="13.32" height="222.7" fill="#FBAB96"/>
<rect x="344.66" y="3356.7" width="13.32" height="222.7" fill="#899ABF"/>
<rect x="357.68" y="3356.7" width="13.32" height="222.7" fill="#CAD1E2"/>
<rect x="370.69" y="3356.7" width="13.32" height="222.7" fill="#7589B4"/>
<rect x="383.71" y="3356.7" width="13.32" height="222.7" fill="#7085B2"/>
<rect x="396.73" y="3356.7" width="13.32" height="222.7" fill="#FFEAE4"/>
<rect x="409.75" y="3356.7" width="13.32" height="222.7" fill="#A4AFCD"/>
<rect x="422.76" y="3356.7" width="13.32" height="222.7" fill="#899ABF"/>
<rect x="435.78" y="3356.7" width="13.32" height="222.7" fill="#D6DBE9"/>
<rect x="448.80" y="3356.7" width="13.32" height="222.7" fill="#94A2C5"/>
<rect x="461.82" y="3356.7" width="13.32" height="222.7" fill="#CAD1E2"/>
<rect x="474.83" y="3356.7" width="13.32" height="222.7" fill="#FFD5C9"/>
<rect x="487.85" y="3356.7" width="13.32" height="222.7" fill="#F6F7FA"/>
<rect x="500.87" y="3356.7" width="13.32" height="222.7" fill="#B4BDD6"/>
<rect x="513.89" y="3356.7" width="13.32" height="222.7" fill="#FBAB96"/>
<rect x="526.90" y="3356.7" width="26.34" height="222.7" fill="#BFC7DC"/>
<rect x="552.94" y="3356.7" width="13.32" height="222.7" fill="#94A2C5"/>
<rect x="565.96" y="3356.7" width="13.32" height="222.7" fill="#899ABF"/>
<rect x="578.97" y="3356.7" width="26.34" height="222.7" fill="#A9B4D0"/>
<rect x="605.01" y="3356.7" width="13.32" height="222.7" fill="#899ABF"/>
<rect x="618.03" y="3356.7" width="13.32" height="222.7" fill="#B4BDD6"/>
<rect x="631.04" y="3356.7" width="13.32" height="222.7" fill="#94A2C5"/>
<rect x="644.06" y="3356.7" width="13.32" height="222.7" fill="#B4BDD6"/>
<rect x="657.08" y="3356.7" width="13.32" height="222.7" fill="#E9EBF3"/>
<rect x="670.10" y="3356.7" width="13.32" height="222.7" fill="#E55E41"/>
<rect x="683.11" y="3356.7" width="13.32" height="222.7" fill="#EF7A5E"/>
<rect x="696.13" y="3356.7" width="13.32" height="222.7" fill="#899ABF"/>
<rect x="709.15" y="3356.7" width="13.32" height="222.7" fill="#7589B4"/>
<rect x="722.17" y="3356.7" width="13.32" height="222.7" fill="#FBAB96"/>
<rect x="735.18" y="3356.7" width="13.32" height="222.7" fill="#899ABF"/>
<rect x="748.20" y="3356.7" width="13.32" height="222.7" fill="#7589B4"/>
<rect x="761.22" y="3356.7" width="13.32" height="222.7" fill="#E2E6EF"/>
<rect x="774.24" y="3356.7" width="13.32" height="222.7" fill="#7F91BA"/>
<rect x="787.25" y="3356.7" width="13.32" height="222.7" fill="#94A2C5"/>
<rect x="800.27" y="3356.7" width="13.32" height="222.7" fill="#A4AFCD"/>
<rect x="813.29" y="3356.7" width="13.32" height="222.7" fill="#A9B4D0"/>
<rect x="826.31" y="3356.7" width="13.32" height="222.7" fill="#AEB9D3"/>
<rect x="839.33" y="3356.7" width="13.32" height="222.7" fill="#B4BDD6"/>
<rect x="852.34" y="3356.7" width="13.32" height="222.7" fill="#BFC7DC"/>
<rect x="865.36" y="3356.7" width="13.32" height="222.7" fill="#94A2C5"/>
<rect x="878.38" y="3356.7" width="13.32" height="222.7" fill="#FFEAE4"/>
<rect x="891.40" y="3356.7" width="13.32" height="222.7" fill="#7589B4"/>
<rect x="904.41" y="3356.7" width="13.32" height="222.7" fill="#E9EBF3"/>
<rect x="917.43" y="3356.7" width="13.32" height="222.7" fill="#C4CCDF"/>
<rect x="930.45" y="3356.7" width="13.32" height="222.7" fill="#7F91BA"/>
<rect x="943.47" y="3356.7" width="13.32" height="222.7" fill="#CAD1E2"/>
<rect x="969.50" y="3356.7" width="13.32" height="222.7" fill="#94A2C5"/>
<rect x="982.52" y="3356.7" width="13.32" height="222.7" fill="#7589B4"/>
<rect x="995.54" y="3356.7" width="13.32" height="222.7" fill="#EFF1F6"/>
<rect x="1008.55" y="3356.7" width="13.32" height="222.7" fill="#A9B4D0"/>
<rect x="1021.57" y="3356.7" width="26.34" height="222.7" fill="#DCE0EC"/>
<rect x="1047.61" y="3356.7" width="13.32" height="222.7" fill="#E2E6EF"/>
<rect x="1060.62" y="3356.7" width="13.32" height="222.7" fill="#CD0000"/>
<rect x="1073.64" y="3356.7" width="13.32" height="222.7" fill="#E9EBF3"/>
<rect x="1086.66" y="3356.7" width="13.32" height="222.7" fill="#CD0000"/>
<rect x="1099.68" y="3356.7" width="13.32" height="222.7" fill="#E9694D"/>
<rect x="1112.69" y="3356.7" width="13.32" height="222.7" fill="#BFC7DC"/>
<rect x="1125.71" y="3356.7" width="13.32" height="222.7" fill="#A9B4D0"/>
<rect x="1138.73" y="3356.7" width="13.32" height="222.7" fill="#EB6F53"/>
<rect x="1151.75" y="3356.7" width="13.32" height="222.7" fill="#F38B71"/>
<rect x="1164.76" y="3356.7" width="13.32" height="222.7" fill="#F6957D"/>
<rect x="1177.78" y="3356.7" width="13.32" height="222.7" fill="#FAA58F"/>
<rect x="1190.80" y="3356.7" width="13.32" height="222.7" fill="#DC4429"/>
<rect x="1203.82" y="3356.7" width="13.32" height="222.7" fill="#94A2C5"/>
<rect x="1216.83" y="3356.7" width="13.32" height="222.7" fill="#7589B4"/>
<rect x="1229.85" y="3356.7" width="13.32" height="222.7" fill="#B9C2D9"/>
<rect x="1242.87" y="3356.7" width="13.32" height="222.7" fill="#D6DBE9"/>
<rect x="1255.89" y="3356.7" width="13.32" height="222.7" fill="#FFEFEB"/>
<rect x="1268.90" y="3356.7" width="13.32" height="222.7" fill="#D52D17"/>
<rect x="1281.92" y="3356.7" width="13.32" height="222.7" fill="#DE4B2F"/>
<rect x="1294.94" y="3356.7" width="13.32" height="222.7" fill="#FFD5C9"/>
<rect x="1307.96" y="3356.7" width="13.32" height="222.7" fill="#FCB09C"/>
<rect x="1320.97" y="3356.7" width="13.32" height="222.7" fill="#B9C2D9"/>
<rect x="1333.99" y="3356.7" width="13.32" height="222.7" fill="#F89B83"/>
<rect x="1347.01" y="3356.7" width="13.32" height="222.7" fill="#D52D17"/>
<rect x="1360.03" y="3356.7" width="13.32" height="222.7" fill="#F2856A"/>
<rect x="1373.05" y="3356.7" width="26.34" height="222.7" fill="#F6957D"/>
<rect x="1399.08" y="3356.7" width="13.32" height="222.7" fill="#FFE5DD"/>
<rect x="1412.10" y="3356.7" width="13.32" height="222.7" fill="#FFC0AF"/>
<rect x="1425.12" y="3356.7" width="13.32" height="222.7" fill="#D6DBE9"/>
<rect x="1438.13" y="3356.7" width="13.32" height="222.7" fill="#F9A089"/>
<rect x="1451.15" y="3356.7" width="13.32" height="222.7" fill="#E2E6EF"/>
<rect x="1464.17" y="3356.7" width="13.32" height="222.7" fill="#FAA58F"/>
<rect x="1490.20" y="3356.7" width="13.32" height="222.7" fill="#FFE5DD"/>
<rect x="1503.22" y="3356.7" width="13.32" height="222.7" fill="#D01607"/>
<rect x="1516.24" y="3356.7" width="13.32" height="222.7" fill="#BFC7DC"/>
<rect x="1529.26" y="3356.7" width="13.32" height="222.7" fill="#D6DBE9"/>
<rect x="1542.27" y="3356.7" width="13.32" height="222.7" fill="#D2230F"/>
<rect x="1555.29" y="3356.7" width="13.32" height="222.7" fill="#DC4429"/>
<rect x="1568.31" y="3356.7" width="13.32" height="222.7" fill="#FFC5B6"/>
<rect x="1581.33" y="3356.7" width="13.32" height="222.7" fill="#F2856A"/>
<rect x="1594.34" y="3356.7" width="13.32" height="222.7" fill="#899ABF"/>
<rect x="1607.36" y="3356.7" width="13.32" height="222.7" fill="#FFDFD6"/>
<rect x="1620.38" y="3356.7" width="26.34" height="222.7" fill="#FFC5B6"/>
<rect x="1646.41" y="3356.7" width="13.32" height="222.7" fill="#DE4B2F"/>
<rect x="1659.43" y="3356.7" width="13.32" height="222.7" fill="#EF7A5E"/>
<rect x="1685.47" y="3356.7" width="13.32" height="222.7" fill="#FCB09C"/>
<rect x="1698.48" y="3356.7" width="13.32" height="222.7" fill="#E2E6EF"/>
<rect x="1711.50" y="3356.7" width="13.32" height="222.7" fill="#7085B2"/>
<rect x="1724.52" y="3356.7" width="13.32" height="222.7" fill="#DE4B2F"/>
<rect x="1737.54" y="3356.7" width="13.32" height="222.7" fill="#FFC0AF"/>
<rect x="1750.55" y="3356.7" width="13.32" height="222.7" fill="#7A8DB7"/>
<rect x="1763.57" y="3356.7" width="13.32" height="222.7" fill="#DE4B2F"/>
<rect x="1776.59" y="3356.7" width="13.32" height="222.7" fill="#E55E41"/>
<rect x="1789.61" y="3356.7" width="13.32" height="222.7" fill="#FDB5A2"/>
<rect x="1802.62" y="3356.7" width="13.32" height="222.7" fill="#F08064"/>
<rect x="1815.64" y="3356.7" width="13.32" height="222.7" fill="#FFCFC3"/>
<rect x="1828.66" y="3356.7" width="13.32" height="222.7" fill="#F6F7FA"/>
<rect x="1841.68" y="3356.7" width="13.32" height="222.7" fill="#DA3D23"/>
<rect x="1854.69" y="3356.7" width="13.32" height="222.7" fill="#D6DBE9"/>
<rect x="1867.71" y="3356.7" width="13.32" height="222.7" fill="#A9B4D0"/>
<rect x="1880.73" y="3356.7" width="13.32" height="222.7" fill="#FFCABC"/>
<rect x="1893.75" y="3356.7" width="13.32" height="222.7" fill="#A4AFCD"/>
<rect x="1906.76" y="3356.7" width="13.32" height="222.7" fill="#CAD1E2"/>
<rect x="1919.78" y="3356.7" width="13.32" height="222.7" fill="#DC4429"/>
<rect x="227.50" y="3579.4" width="26.34" height="221.4" fill="#A9B4D0"/>
<rect x="253.54" y="3579.4" width="13.32" height="221.4" fill="#9EABCA"/>
<rect x="266.55" y="3579.4" width="13.32" height="221.4" fill="#899ABF"/>
<rect x="279.57" y="3579.4" width="13.32" height="221.4" fill="#5672A4"/>
<rect x="292.59" y="3579.4" width="13.32" height="221.4" fill="#FFC0AF"/>
<rect x="318.62" y="3579.4" width="13.32" height="221.4" fill="#FFEAE4"/>
<rect x="331.64" y="3579.4" width="13.32" height="221.4" fill="#A9B4D0"/>
<rect x="344.66" y="3579.4" width="13.32" height="221.4" fill="#A4AFCD"/>
<rect x="357.68" y="3579.4" width="13.32" height="221.4" fill="#F9A089"/>
<rect x="370.69" y="3579.4" width="13.32" height="221.4" fill="#FFCABC"/>
<rect x="383.71" y="3579.4" width="13.32" height="221.4" fill="#A9B4D0"/>
<rect x="396.73" y="3579.4" width="13.32" height="221.4" fill="#899ABF"/>
<rect x="409.75" y="3579.4" width="13.32" height="221.4" fill="#FFF4F1"/>
<rect x="422.76" y="3579.4" width="13.32" height="221.4" fill="#104E8B"/>
<rect x="435.78" y="3579.4" width="13.32" height="221.4" fill="#4B6A9F"/>
<rect x="448.80" y="3579.4" width="13.32" height="221.4" fill="#245590"/>
<rect x="461.82" y="3579.4" width="13.32" height="221.4" fill="#D6DBE9"/>
<rect x="474.83" y="3579.4" width="13.32" height="221.4" fill="#4B6A9F"/>
<rect x="487.85" y="3579.4" width="13.32" height="221.4" fill="#FFF4F1"/>
<rect x="500.87" y="3579.4" width="13.32" height="221.4" fill="#BFC7DC"/>
<rect x="513.89" y="3579.4" width="13.32" height="221.4" fill="#899ABF"/>
<rect x="526.90" y="3579.4" width="13.32" height="221.4" fill="#BFC7DC"/>
<rect x="539.92" y="3579.4" width="13.32" height="221.4" fill="#7085B2"/>
<rect x="552.94" y="3579.4" width="13.32" height="221.4" fill="#FFC0AF"/>
<rect x="565.96" y="3579.4" width="13.32" height="221.4" fill="#104E8B"/>
<rect x="578.97" y="3579.4" width="13.32" height="221.4" fill="#C4CCDF"/>
<rect x="591.99" y="3579.4" width="13.32" height="221.4" fill="#7F91BA"/>
<rect x="605.01" y="3579.4" width="13.32" height="221.4" fill="#3F639A"/>
<rect x="618.03" y="3579.4" width="13.32" height="221.4" fill="#7589B4"/>
<rect x="631.04" y="3579.4" width="13.32" height="221.4" fill="#4B6A9F"/>
<rect x="644.06" y="3579.4" width="13.32" height="221.4" fill="#899ABF"/>
<rect x="657.08" y="3579.4" width="13.32" height="221.4" fill="#FFFAF8"/>
<rect x="670.10" y="3579.4" width="13.32" height="221.4" fill="#FFC0AF"/>
<rect x="683.11" y="3579.4" width="13.32" height="221.4" fill="#EFF1F6"/>
<rect x="696.13" y="3579.4" width="13.32" height="221.4" fill="#FFC0AF"/>
<rect x="709.15" y="3579.4" width="13.32" height="221.4" fill="#94A2C5"/>
<rect x="722.17" y="3579.4" width="13.32" height="221.4" fill="#E9EBF3"/>
<rect x="735.18" y="3579.4" width="13.32" height="221.4" fill="#BFC7DC"/>
<rect x="748.20" y="3579.4" width="13.32" height="221.4" fill="#335C95"/>
<rect x="761.22" y="3579.4" width="13.32" height="221.4" fill="#6A81AF"/>
<rect x="774.24" y="3579.4" width="13.32" height="221.4" fill="#94A2C5"/>
<rect x="787.25" y="3579.4" width="13.32" height="221.4" fill="#99A7C8"/>
<rect x="800.27" y="3579.4" width="13.32" height="221.4" fill="#9EABCA"/>
<rect x="813.29" y="3579.4" width="13.32" height="221.4" fill="#A9B4D0"/>
<rect x="826.31" y="3579.4" width="13.32" height="221.4" fill="#DCE0EC"/>
<rect x="839.33" y="3579.4" width="13.32" height="221.4" fill="#6079AA"/>
<rect x="852.34" y="3579.4" width="13.32" height="221.4" fill="#FFC0AF"/>
<rect x="865.36" y="3579.4" width="13.32" height="221.4" fill="#CAD1E2"/>
<rect x="878.38" y="3579.4" width="13.32" height="221.4" fill="#FFCFC3"/>
<rect x="891.40" y="3579.4" width="13.32" height="221.4" fill="#104E8B"/>
<rect x="904.41" y="3579.4" width="13.32" height="221.4" fill="#B9C2D9"/>
<rect x="917.43" y="3579.4" width="13.32" height="221.4" fill="#A4AFCD"/>
<rect x="930.45" y="3579.4" width="13.32" height="221.4" fill="#C4CCDF"/>
<rect x="943.47" y="3579.4" width="13.32" height="221.4" fill="#8F9EC2"/>
<rect x="956.48" y="3579.4" width="13.32" height="221.4" fill="#FFEAE4"/>
<rect x="969.50" y="3579.4" width="13.32" height="221.4" fill="#FFF4F1"/>
<rect x="982.52" y="3579.4" width="13.32" height="221.4" fill="#94A2C5"/>
<rect x="995.54" y="3579.4" width="13.32" height="221.4" fill="#D6DBE9"/>
<rect x="1008.55" y="3579.4" width="26.34" height="221.4" fill="#C4CCDF"/>
<rect x="1034.59" y="3579.4" width="13.32" height="221.4" fill="#FFFDFC"/>
<rect x="1047.61" y="3579.4" width="13.32" height="221.4" fill="#BFC7DC"/>
<rect x="1060.62" y="3579.4" width="13.32" height="221.4" fill="#FFD5C9"/>
<rect x="1073.64" y="3579.4" width="13.32" height="221.4" fill="#DC4429"/>
<rect x="1086.66" y="3579.4" width="13.32" height="221.4" fill="#FDB5A2"/>
<rect x="1099.68" y="3579.4" width="13.32" height="221.4" fill="#FFEFEB"/>
<rect x="1112.69" y="3579.4" width="13.32" height="221.4" fill="#FFEAE4"/>
<rect x="1125.71" y="3579.4" width="13.32" height="221.4" fill="#CAD1E2"/>
<rect x="1138.73" y="3579.4" width="13.32" height="221.4" fill="#FCB09C"/>
<rect x="1151.75" y="3579.4" width="13.32" height="221.4" fill="#FFCABC"/>
<rect x="1164.76" y="3579.4" width="26.34" height="221.4" fill="#FFDAD0"/>
<rect x="1190.80" y="3579.4" width="13.32" height="221.4" fill="#F2856A"/>
<rect x="1203.82" y="3579.4" width="13.32" height="221.4" fill="#E15135"/>
<rect x="1216.83" y="3579.4" width="13.32" height="221.4" fill="#E9694D"/>
<rect x="1229.85" y="3579.4" width="13.32" height="221.4" fill="#F08064"/>
<rect x="1242.87" y="3579.4" width="13.32" height="221.4" fill="#EB6F53"/>
<rect x="1255.89" y="3579.4" width="13.32" height="221.4" fill="#FFEFEB"/>
<rect x="1268.90" y="3579.4" width="13.32" height="221.4" fill="#FFC5B6"/>
<rect x="1281.92" y="3579.4" width="13.32" height="221.4" fill="#E3583B"/>
<rect x="1294.94" y="3579.4" width="13.32" height="221.4" fill="#FDB5A2"/>
<rect x="1307.96" y="3579.4" width="13.32" height="221.4" fill="#EF7A5E"/>
<rect x="1320.97" y="3579.4" width="13.32" height="221.4" fill="#FBAB96"/>
<rect x="1333.99" y="3579.4" width="13.32" height="221.4" fill="#EB6F53"/>
<rect x="1347.01" y="3579.4" width="13.32" height="221.4" fill="#FCB09C"/>
<rect x="1360.03" y="3579.4" width="13.32" height="221.4" fill="#F89B83"/>
<rect x="1373.05" y="3579.4" width="13.32" height="221.4" fill="#F6957D"/>
<rect x="1386.06" y="3579.4" width="13.32" height="221.4" fill="#FFEFEB"/>
<rect x="1399.08" y="3579.4" width="13.32" height="221.4" fill="#FBAB96"/>
<rect x="1412.10" y="3579.4" width="13.32" height="221.4" fill="#B9C2D9"/>
<rect x="1425.12" y="3579.4" width="13.32" height="221.4" fill="#FAA58F"/>
<rect x="1438.13" y="3579.4" width="13.32" height="221.4" fill="#F2856A"/>
<rect x="1451.15" y="3579.4" width="13.32" height="221.4" fill="#D2230F"/>
<rect x="1464.17" y="3579.4" width="13.32" height="221.4" fill="#FFFCFB"/>
<rect x="1477.19" y="3579.4" width="13.32" height="221.4" fill="#FFDFD6"/>
<rect x="1490.20" y="3579.4" width="26.34" height="221.4" fill="#FDB5A2"/>
<rect x="1516.24" y="3579.4" width="13.32" height="221.4" fill="#EB6F53"/>
<rect x="1529.26" y="3579.4" width="13.32" height="221.4" fill="#F6957D"/>
<rect x="1542.27" y="3579.4" width="13.32" height="221.4" fill="#E55E41"/>
<rect x="1555.29" y="3579.4" width="13.32" height="221.4" fill="#F89B83"/>
<rect x="1568.31" y="3579.4" width="13.32" height="221.4" fill="#FFDFD6"/>
<rect x="1581.33" y="3579.4" width="13.32" height="221.4" fill="#FAA58F"/>
<rect x="1594.34" y="3579.4" width="13.32" height="221.4" fill="#FBAB96"/>
<rect x="1607.36" y="3579.4" width="13.32" height="221.4" fill="#FDB5A2"/>
<rect x="1620.38" y="3579.4" width="13.32" height="221.4" fill="#94A2C5"/>
<rect x="1633.40" y="3579.4" width="13.32" height="221.4" fill="#F6F7FA"/>
<rect x="1646.41" y="3579.4" width="13.32" height="221.4" fill="#ED7558"/>
<rect x="1659.43" y="3579.4" width="26.34" height="221.4" fill="#E9694D"/>
<rect x="1685.47" y="3579.4" width="13.32" height="221.4" fill="#D52D17"/>
<rect x="1698.48" y="3579.4" width="13.32" height="221.4" fill="#FFD5C9"/>
<rect x="1711.50" y="3579.4" width="13.32" height="221.4" fill="#F2856A"/>
<rect x="1724.52" y="3579.4" width="13.32" height="221.4" fill="#FAA58F"/>
<rect x="1737.54" y="3579.4" width="13.32" height="221.4" fill="#DCE0EC"/>
<rect x="1763.57" y="3579.4" width="13.32" height="221.4" fill="#FFFCFB"/>
<rect x="1776.59" y="3579.4" width="13.32" height="221.4" fill="#EF7A5E"/>
<rect x="1789.61" y="3579.4" width="13.32" height="221.4" fill="#ED7558"/>
<rect x="1802.62" y="3579.4" width="13.32" height="221.4" fill="#F59077"/>
<rect x="1815.64" y="3579.4" width="13.32" height="221.4" fill="#D6DBE9"/>
<rect x="1828.66" y="3579.4" width="13.32" height="221.4" fill="#FFFAF8"/>
<rect x="1841.68" y="3579.4" width="13.32" height="221.4" fill="#F6957D"/>
<rect x="1854.69" y="3579.4" width="13.32" height="221.4" fill="#D6DBE9"/>
<rect x="1880.73" y="3579.4" width="13.32" height="221.4" fill="#ED7558"/>
<rect x="1893.75" y="3579.4" width="13.32" height="221.4" fill="#F6957D"/>
<rect x="1906.76" y="3579.4" width="26.34" height="221.4" fill="#FFDFD6"/>
<rect x="240.52" y="3800.8" width="13.32" height="222.2" fill="#F6957D"/>
<rect x="253.54" y="3800.8" width="13.32" height="222.2" fill="#FFC0AF"/>
<rect x="266.55" y="3800.8" width="13.32" height="222.2" fill="#F38B71"/>
<rect x="279.57" y="3800.8" width="13.32" height="222.2" fill="#DC4429"/>
<rect x="305.61" y="3800.8" width="13.32" height="222.2" fill="#FFEAE4"/>
<rect x="318.62" y="3800.8" width="13.32" height="222.2" fill="#94A2C5"/>
<rect x="331.64" y="3800.8" width="13.32" height="222.2" fill="#CAD1E2"/>
<rect x="344.66" y="3800.8" width="26.34" height="222.2" fill="#94A2C5"/>
<rect x="370.69" y="3800.8" width="13.32" height="222.2" fill="#FFCABC"/>
<rect x="383.71" y="3800.8" width="13.32" height="222.2" fill="#A9B4D0"/>
<rect x="396.73" y="3800.8" width="13.32" height="222.2" fill="#899ABF"/>
<rect x="409.75" y="3800.8" width="13.32" height="222.2" fill="#FBAB96"/>
<rect x="422.76" y="3800.8" width="13.32" height="222.2" fill="#6079AA"/>
<rect x="435.78" y="3800.8" width="13.32" height="222.2" fill="#6A81AF"/>
<rect x="448.80" y="3800.8" width="13.32" height="222.2" fill="#6079AA"/>
<rect x="461.82" y="3800.8" width="13.32" height="222.2" fill="#7589B4"/>
<rect x="474.83" y="3800.8" width="13.32" height="222.2" fill="#104E8B"/>
<rect x="487.85" y="3800.8" width="13.32" height="222.2" fill="#FFDFD6"/>
<rect x="500.87" y="3800.8" width="13.32" height="222.2" fill="#9EABCA"/>
<rect x="513.89" y="3800.8" width="13.32" height="222.2" fill="#5672A4"/>
<rect x="526.90" y="3800.8" width="13.32" height="222.2" fill="#7F91BA"/>
<rect x="539.92" y="3800.8" width="13.32" height="222.2" fill="#104E8B"/>
<rect x="552.94" y="3800.8" width="13.32" height="222.2" fill="#FFCABC"/>
<rect x="565.96" y="3800.8" width="13.32" height="222.2" fill="#104E8B"/>
<rect x="578.97" y="3800.8" width="13.32" height="222.2" fill="#FFEFEB"/>
<rect x="591.99" y="3800.8" width="13.32" height="222.2" fill="#7589B4"/>
<rect x="605.01" y="3800.8" width="39.35" height="222.2" fill="#7F91BA"/>
<rect x="644.06" y="3800.8" width="13.32" height="222.2" fill="#104E8B"/>
<rect x="657.08" y="3800.8" width="13.32" height="222.2" fill="#3F639A"/>
<rect x="670.10" y="3800.8" width="13.32" height="222.2" fill="#6079AA"/>
<rect x="683.11" y="3800.8" width="13.32" height="222.2" fill="#3F639A"/>
<rect x="696.13" y="3800.8" width="13.32" height="222.2" fill="#E9EBF3"/>
<rect x="709.15" y="3800.8" width="13.32" height="222.2" fill="#F9A089"/>
<rect x="722.17" y="3800.8" width="13.32" height="222.2" fill="#D6DBE9"/>
<rect x="735.18" y="3800.8" width="13.32" height="222.2" fill="#E55E41"/>
<rect x="748.20" y="3800.8" width="13.32" height="222.2" fill="#7F91BA"/>
<rect x="761.22" y="3800.8" width="13.32" height="222.2" fill="#FFDFD6"/>
<rect x="774.24" y="3800.8" width="13.32" height="222.2" fill="#F08064"/>
<rect x="787.25" y="3800.8" width="13.32" height="222.2" fill="#F89B83"/>
<rect x="800.27" y="3800.8" width="13.32" height="222.2" fill="#BFC7DC"/>
<rect x="813.29" y="3800.8" width="13.32" height="222.2" fill="#A9B4D0"/>
<rect x="826.31" y="3800.8" width="13.32" height="222.2" fill="#FBAB96"/>
<rect x="839.33" y="3800.8" width="13.32" height="222.2" fill="#6079AA"/>
<rect x="852.34" y="3800.8" width="13.32" height="222.2" fill="#FFDFD6"/>
<rect x="865.36" y="3800.8" width="13.32" height="222.2" fill="#EF7A5E"/>
<rect x="878.38" y="3800.8" width="13.32" height="222.2" fill="#E9EBF3"/>
<rect x="891.40" y="3800.8" width="13.32" height="222.2" fill="#FFCFC3"/>
<rect x="904.41" y="3800.8" width="13.32" height="222.2" fill="#E9EBF3"/>
<rect x="917.43" y="3800.8" width="13.32" height="222.2" fill="#F59077"/>
<rect x="930.45" y="3800.8" width="13.32" height="222.2" fill="#FAA58F"/>
<rect x="943.47" y="3800.8" width="13.32" height="222.2" fill="#FCB09C"/>
<rect x="956.48" y="3800.8" width="13.32" height="222.2" fill="#FBFCFD"/>
<rect x="969.50" y="3800.8" width="13.32" height="222.2" fill="#F59077"/>
<rect x="982.52" y="3800.8" width="13.32" height="222.2" fill="#EF7A5E"/>
<rect x="995.54" y="3800.8" width="13.32" height="222.2" fill="#FFD5C9"/>
<rect x="1008.55" y="3800.8" width="13.32" height="222.2" fill="#F2856A"/>
<rect x="1021.57" y="3800.8" width="13.32" height="222.2" fill="#FEBAA9"/>
<rect x="1034.59" y="3800.8" width="13.32" height="222.2" fill="#FFCFC3"/>
<rect x="1047.61" y="3800.8" width="26.34" height="222.2" fill="#4B6A9F"/>
<rect x="1073.64" y="3800.8" width="13.32" height="222.2" fill="#FAA58F"/>
<rect x="1086.66" y="3800.8" width="13.32" height="222.2" fill="#5672A4"/>
<rect x="1099.68" y="3800.8" width="13.32" height="222.2" fill="#FFD5C9"/>
<rect x="1112.69" y="3800.8" width="13.32" height="222.2" fill="#E9694D"/>
<rect x="1125.71" y="3800.8" width="13.32" height="222.2" fill="#E76447"/>
<rect x="1138.73" y="3800.8" width="13.32" height="222.2" fill="#FFC5B6"/>
<rect x="1151.75" y="3800.8" width="13.32" height="222.2" fill="#CAD1E2"/>
<rect x="1164.76" y="3800.8" width="26.34" height="222.2" fill="#E2E6EF"/>
<rect x="1190.80" y="3800.8" width="13.32" height="222.2" fill="#4B6A9F"/>
<rect x="1203.82" y="3800.8" width="13.32" height="222.2" fill="#FFFDFC"/>
<rect x="1216.83" y="3800.8" width="13.32" height="222.2" fill="#FFEAE4"/>
<rect x="1229.85" y="3800.8" width="13.32" height="222.2" fill="#F59077"/>
<rect x="1242.87" y="3800.8" width="13.32" height="222.2" fill="#EF7A5E"/>
<rect x="1255.89" y="3800.8" width="13.32" height="222.2" fill="#FFDAD0"/>
<rect x="1268.90" y="3800.8" width="13.32" height="222.2" fill="#7085B2"/>
<rect x="1281.92" y="3800.8" width="13.32" height="222.2" fill="#E9694D"/>
<rect x="1307.96" y="3800.8" width="13.32" height="222.2" fill="#AEB9D3"/>
<rect x="1320.97" y="3800.8" width="13.32" height="222.2" fill="#FAA58F"/>
<rect x="1333.99" y="3800.8" width="13.32" height="222.2" fill="#7085B2"/>
<rect x="1347.01" y="3800.8" width="13.32" height="222.2" fill="#8F9EC2"/>
<rect x="1373.05" y="3800.8" width="13.32" height="222.2" fill="#DA3D23"/>
<rect x="1386.06" y="3800.8" width="13.32" height="222.2" fill="#FFEFEB"/>
<rect x="1399.08" y="3800.8" width="13.32" height="222.2" fill="#FFF4F1"/>
<rect x="1412.10" y="3800.8" width="13.32" height="222.2" fill="#E9694D"/>
<rect x="1425.12" y="3800.8" width="13.32" height="222.2" fill="#FFCABC"/>
<rect x="1438.13" y="3800.8" width="13.32" height="222.2" fill="#FFF4F1"/>
<rect x="1451.15" y="3800.8" width="13.32" height="222.2" fill="#FBAB96"/>
<rect x="1464.17" y="3800.8" width="13.32" height="222.2" fill="#E9EBF3"/>
<rect x="1477.19" y="3800.8" width="13.32" height="222.2" fill="#FFF4F1"/>
<rect x="1490.20" y="3800.8" width="13.32" height="222.2" fill="#E2E6EF"/>
<rect x="1503.22" y="3800.8" width="13.32" height="222.2" fill="#C4CCDF"/>
<rect x="1516.24" y="3800.8" width="13.32" height="222.2" fill="#D6DBE9"/>
<rect x="1529.26" y="3800.8" width="13.32" height="222.2" fill="#FFD5C9"/>
<rect x="1542.27" y="3800.8" width="13.32" height="222.2" fill="#FEBAA9"/>
<rect x="1555.29" y="3800.8" width="13.32" height="222.2" fill="#EFF1F6"/>
<rect x="1581.33" y="3800.8" width="13.32" height="222.2" fill="#FFD5C9"/>
<rect x="1594.34" y="3800.8" width="13.32" height="222.2" fill="#FAA58F"/>
<rect x="1607.36" y="3800.8" width="13.32" height="222.2" fill="#F2856A"/>
<rect x="1620.38" y="3800.8" width="13.32" height="222.2" fill="#E3583B"/>
<rect x="1633.40" y="3800.8" width="13.32" height="222.2" fill="#E76447"/>
<rect x="1646.41" y="3800.8" width="13.32" height="222.2" fill="#FEBAA9"/>
<rect x="1659.43" y="3800.8" width="13.32" height="222.2" fill="#FFC5B6"/>
<rect x="1672.45" y="3800.8" width="26.34" height="222.2" fill="#FFC0AF"/>
<rect x="1698.48" y="3800.8" width="13.32" height="222.2" fill="#F2856A"/>
<rect x="1711.50" y="3800.8" width="13.32" height="222.2" fill="#FFDFD6"/>
<rect x="1724.52" y="3800.8" width="13.32" height="222.2" fill="#F2856A"/>
<rect x="1737.54" y="3800.8" width="13.32" height="222.2" fill="#FDB5A2"/>
<rect x="1750.55" y="3800.8" width="13.32" height="222.2" fill="#E15135"/>
<rect x="1776.59" y="3800.8" width="13.32" height="222.2" fill="#E2E6EF"/>
<rect x="1789.61" y="3800.8" width="13.32" height="222.2" fill="#BFC7DC"/>
<rect x="1802.62" y="3800.8" width="13.32" height="222.2" fill="#F08064"/>
<rect x="1815.64" y="3800.8" width="13.32" height="222.2" fill="#FFD5C9"/>
<rect x="1828.66" y="3800.8" width="13.32" height="222.2" fill="#FCB09C"/>
<rect x="1841.68" y="3800.8" width="13.32" height="222.2" fill="#CAD1E2"/>
<rect x="1854.69" y="3800.8" width="13.32" height="222.2" fill="#F59077"/>
<rect x="1867.71" y="3800.8" width="13.32" height="222.2" fill="#F2856A"/>
<rect x="1880.73" y="3800.8" width="13.32" height="222.2" fill="#FFEFEB"/>
<rect x="1893.75" y="3800.8" width="13.32" height="222.2" fill="#FFFDFC"/>
<rect x="1906.76" y="3800.8" width="13.32" height="222.2" fill="#FFEAE4"/>
<rect x="1919.78" y="3800.8" width="13.32" height="222.2" fill="#FFC5B6"/>
</g>
<text class="sf" x="214.3" y="3479.6" font-size="34.5" text-anchor="end">OGG1</text>
<text class="sf" x="214.3" y="3703.3" font-size="34.5" text-anchor="end">PDHA1</text>
<text class="sf" x="214.3" y="3923.9" font-size="34.5" text-anchor="end">OPA1</text>
<text class="sf" x="1944.1" y="3321.4" font-size="45.5">Group</text>
<text class="sf" x="2097.9" y="3443.4" font-size="38" font-weight="bold">Group</text>
<rect x="2097.9" y="3469" width="41.5" height="41.2" fill="#CC0000"/>
<rect x="2097.9" y="3513.6" width="41.5" height="41.2" fill="#104E8B"/>
<text class="sf" x="2153.5" y="3502.4" font-size="37.2">high</text>
<text class="sf" x="2153.5" y="3546.9" font-size="37.2">low</text>
<text class="sf" x="2097.9" y="3626.2" font-size="38.3" font-weight="bold">expression</text>
<defs><linearGradient id="cbg" x1="0" y1="0" x2="0" y2="1"><stop offset="0.0000" stop-color="#CD0000"/><stop offset="0.0417" stop-color="#CE0602"/><stop offset="0.0833" stop-color="#D7341C"/><stop offset="0.1250" stop-color="#DF4E32"/><stop offset="0.1667" stop-color="#E76447"/><stop offset="0.2083" stop-color="#EE785D"/><stop offset="0.2500" stop-color="#F48C72"/><stop offset="0.2917" stop-color="#F99F89"/><stop offset="0.3333" stop-color="#FDB39F"/><stop offset="0.3750" stop-color="#FFC6B6"/><stop offset="0.4167" stop-color="#FFD9CE"/><stop offset="0.4583" stop-color="#FFECE6"/><stop offset="0.5000" stop-color="#FFFFFF"/><stop offset="0.5417" stop-color="#E5E8F1"/><stop offset="0.5833" stop-color="#CFD5E5"/><stop offset="0.6250" stop-color="#BBC3DA"/><stop offset="0.6667" stop-color="#A7B2CF"/><stop offset="0.7083" stop-color="#94A2C5"/><stop offset="0.7500" stop-color="#8193BB"/><stop offset="0.7917" stop-color="#6F84B1"/><stop offset="0.8333" stop-color="#5C76A8"/><stop offset="0.8750" stop-color="#48699E"/><stop offset="0.9167" stop-color="#335C95"/><stop offset="0.9583" stop-color="#154F8C"/><stop offset="1.0000" stop-color="#104E8B"/></linearGradient></defs>
<rect x="2095.4" y="3649.9" width="46.7" height="237.1" fill="url(#cbg)" rx="2"/>
<line x1="2095.4" y1="3659.1" x2="2105.7" y2="3659.1" stroke="#fff" stroke-width="2.8"/>
<line x1="2131.8" y1="3659.1" x2="2142.1" y2="3659.1" stroke="#fff" stroke-width="2.8"/>
<text class="sf" x="2153" y="3672.3" font-size="37">2</text>
<line x1="2095.4" y1="3713.9" x2="2105.7" y2="3713.9" stroke="#fff" stroke-width="2.8"/>
<line x1="2131.8" y1="3713.9" x2="2142.1" y2="3713.9" stroke="#fff" stroke-width="2.8"/>
<text class="sf" x="2153" y="3727.1" font-size="37">1</text>
<line x1="2095.4" y1="3768.7" x2="2105.7" y2="3768.7" stroke="#fff" stroke-width="2.8"/>
<line x1="2131.8" y1="3768.7" x2="2142.1" y2="3768.7" stroke="#fff" stroke-width="2.8"/>
<text class="sf" x="2153" y="3781.9" font-size="37">0</text>
<line x1="2095.4" y1="3823.4" x2="2105.7" y2="3823.4" stroke="#fff" stroke-width="2.8"/>
<line x1="2131.8" y1="3823.4" x2="2142.1" y2="3823.4" stroke="#fff" stroke-width="2.8"/>
<text class="sf" x="2153" y="3836.6" font-size="37">−1</text>
<line x1="2095.4" y1="3878.1" x2="2105.7" y2="3878.1" stroke="#fff" stroke-width="2.8"/>
<line x1="2131.8" y1="3878.1" x2="2142.1" y2="3878.1" stroke="#fff" stroke-width="2.8"/>
<text class="sf" x="2153" y="3891.3" font-size="37">−2</text>
</g>
<g id="panelE">
<text class="ss" x="2318" y="1258" font-size="75" font-weight="bold" letter-spacing="-0.3">(E)</text>
<path d="M2689.8 1450.9 L2734.2 1450.9 L2734.2 1450.9 L2739.5 1450.9 L2739.5 1451.5 L2757.3 1451.5 L2757.3 1456 L2772.4 1456 L2772.4 1460.7 L2777.1 1460.7 L2777.1 1465.9 L2782.9 1465.9 L2782.9 1471.2 L2791.3 1471.2 L2791.3 1488.4 L2800.8 1488.4 L2800.8 1500.6 L2805.6 1500.6 L2805.6 1506.9 L2810.3 1506.9 L2810.3 1519.7 L2814.5 1519.7 L2814.5 1526.3 L2819.7 1526.3 L2819.7 1532.9 L2846 1532.9 L2846 1539.7 L2849.7 1539.7 L2849.7 1553.4 L2853.3 1553.4 L2853.3 1560.3 L2864.9 1560.3 L2864.9 1567.4 L2871.2 1567.4 L2871.2 1574.4 L2877.5 1574.4 L2877.5 1581.6 L2902.7 1581.6 L2902.7 1588.8 L2914.2 1588.8 L2914.2 1596.1 L2919.1 1596.1 L2919.1 1603.4 L2924.3 1603.4 L2924.3 1625.8 L2933.2 1625.8 L2933.2 1633.4 L2940.1 1633.4 L2940.1 1641 L2965.3 1641 L2965.3 1656.4 L3035 1656.4 L3035 1664.2 L3054 1664.2 L3054 1672 L3064 1672 L3064 1687.9 L3077.1 1687.9 L3077.1 1695.9 L3207.2 1695.9 L3207.2 1704.2 L3258 1704.2 L3258 1721.5 L3659.1 1721.5 L3659.1 1844.5 L3258 1844.5 L3258 1828.7 L3207.2 1828.7 L3207.2 1821 L3077.1 1821 L3077.1 1813.7 L3064 1813.7 L3064 1798.8 L3054 1798.8 L3054 1791.3 L3035 1791.3 L3035 1783.7 L2965.3 1783.7 L2965.3 1768.3 L2940.1 1768.3 L2940.1 1760.6 L2933.2 1760.6 L2933.2 1752.8 L2924.3 1752.8 L2924.3 1729 L2919.1 1729 L2919.1 1721 L2914.2 1721 L2914.2 1712.9 L2902.7 1712.9 L2902.7 1704.7 L2877.5 1704.7 L2877.5 1696.5 L2871.2 1696.5 L2871.2 1688.2 L2864.9 1688.2 L2864.9 1679.8 L2853.3 1679.8 L2853.3 1671.4 L2849.7 1671.4 L2849.7 1654.3 L2846 1654.3 L2846 1645.7 L2819.7 1645.7 L2819.7 1637 L2814.5 1637 L2814.5 1628.2 L2810.3 1628.2 L2810.3 1610.3 L2805.6 1610.3 L2805.6 1601.2 L2800.8 1601.2 L2800.8 1582.6 L2791.3 1582.6 L2791.3 1553.6 L2782.9 1553.6 L2782.9 1543.6 L2777.1 1543.6 L2777.1 1533.3 L2772.4 1533.3 L2772.4 1522.8 L2757.3 1522.8 L2757.3 1511.8 L2739.5 1511.8 L2739.5 1474 L2734.2 1474 L2734.2 1450.9 L2689.8 1450.9Z" fill="#CC0000" stroke="none" stroke-width="0" fill-opacity="0.3"/>
<path d="M2689.8 1450.9 L2747.6 1450.9 L2747.6 1450.9 L2773.5 1450.9 L2773.5 1450.9 L2776.5 1450.9 L2776.5 1450.9 L2779.7 1450.9 L2779.7 1451.6 L2784.5 1451.6 L2784.5 1456 L2816.8 1456 L2816.8 1461 L2821.8 1461 L2821.8 1466.2 L2828 1466.2 L2828 1471.7 L2834.7 1471.7 L2834.7 1477.4 L2851.8 1477.4 L2851.8 1483.3 L2865.2 1483.3 L2865.2 1489.4 L2868 1489.4 L2868 1495.6 L2873.5 1495.6 L2873.5 1502 L2896.6 1502 L2896.6 1508.5 L2898.6 1508.5 L2898.6 1515.1 L2900.6 1515.1 L2900.6 1521.8 L2919.3 1521.8 L2919.3 1528.6 L3054 1528.6 L3054 1535.7 L3097.3 1535.7 L3097.3 1542.9 L3112.6 1542.9 L3112.6 1550.2 L3217.8 1550.2 L3217.8 1557.6 L3895.8 1557.6 L3895.8 1679.6 L3217.8 1679.6 L3217.8 1670.2 L3112.6 1670.2 L3112.6 1660.9 L3097.3 1660.9 L3097.3 1651.6 L3054 1651.6 L3054 1642.1 L2919.3 1642.1 L2919.3 1632.8 L2900.6 1632.8 L2900.6 1623.7 L2898.6 1623.7 L2898.6 1614.4 L2896.6 1614.4 L2896.6 1605 L2873.5 1605 L2873.5 1595.5 L2868 1595.5 L2868 1585.9 L2865.2 1585.9 L2865.2 1576.1 L2851.8 1576.1 L2851.8 1566.1 L2834.7 1566.1 L2834.7 1556 L2828 1556 L2828 1545.6 L2821.8 1545.6 L2821.8 1535 L2816.8 1535 L2816.8 1524.1 L2784.5 1524.1 L2784.5 1512.7 L2779.7 1512.7 L2779.7 1501 L2776.5 1501 L2776.5 1488.5 L2773.5 1488.5 L2773.5 1474.4 L2747.6 1474.4 L2747.6 1450.9 L2689.8 1450.9Z" fill="#104E8B" stroke="none" stroke-width="0" fill-opacity="0.3"/>
<path d="M2689.8 1450.9 L2734.2 1450.9 L2734.2 1458.8 L2739.5 1458.8 L2739.5 1482.6 L2757.3 1482.6 L2757.3 1490.5 L2772.4 1490.5 L2772.4 1498.4 L2777.1 1498.4 L2777.1 1506.3 L2782.9 1506.3 L2782.9 1514.3 L2791.3 1514.3 L2791.3 1538 L2800.8 1538 L2800.8 1553.9 L2805.6 1553.9 L2805.6 1561.8 L2810.3 1561.8 L2810.3 1577.6 L2814.5 1577.6 L2814.5 1585.6 L2819.7 1585.6 L2819.7 1593.5 L2846 1593.5 L2846 1601.4 L2849.7 1601.4 L2849.7 1617.2 L2853.3 1617.2 L2853.3 1625.2 L2864.9 1625.2 L2864.9 1633.1 L2871.2 1633.1 L2871.2 1641 L2877.5 1641 L2877.5 1648.9 L2902.7 1648.9 L2902.7 1656.9 L2914.2 1656.9 L2914.2 1664.8 L2919.1 1664.8 L2919.1 1672.7 L2924.3 1672.7 L2924.3 1696.5 L2933.2 1696.5 L2933.2 1704.4 L2940.1 1704.4 L2940.1 1712.3 L2965.3 1712.3 L2965.3 1728.1 L3035 1728.1 L3035 1736.1 L3054 1736.1 L3054 1744 L3064 1744 L3064 1759.8 L3077.1 1759.8 L3077.1 1767.7 L3207.2 1767.7 L3207.2 1776 L3258 1776 L3258 1793.2 L3659.1 1793.2" fill="none" stroke="#CC0000" stroke-width="6.5" stroke-linejoin="round"/>
<path d="M2689.8 1450.9 L2747.6 1450.9 L2747.6 1458.9 L2773.5 1458.9 L2773.5 1467 L2776.5 1467 L2776.5 1475 L2779.7 1475 L2779.7 1483.1 L2784.5 1483.1 L2784.5 1491.2 L2816.8 1491.2 L2816.8 1499.4 L2821.8 1499.4 L2821.8 1507.6 L2828 1507.6 L2828 1515.8 L2834.7 1515.8 L2834.7 1524 L2851.8 1524 L2851.8 1532.1 L2865.2 1532.1 L2865.2 1540.3 L2868 1540.3 L2868 1548.5 L2873.5 1548.5 L2873.5 1556.7 L2896.6 1556.7 L2896.6 1564.8 L2898.6 1564.8 L2898.6 1573 L2900.6 1573 L2900.6 1581.2 L2919.3 1581.2 L2919.3 1589.5 L3054 1589.5 L3054 1598.1 L3097.3 1598.1 L3097.3 1606.6 L3112.6 1606.6 L3112.6 1615.2 L3217.8 1615.2 L3217.8 1623.9 L3895.8 1623.9" fill="none" stroke="#104E8B" stroke-width="6.5" stroke-linejoin="round"/>
<path d="M3128.5 1753.1V1773.3M3118.4 1763.2H3138.6M3253.7 1761.4V1781.6M3243.6 1771.5H3263.8M3261.1 1778.6V1798.8M3251 1788.7H3271.2M3275 1778.6V1798.8M3264.9 1788.7H3285.1M3296.5 1778.6V1798.8M3286.4 1788.7H3306.6M3326.5 1778.6V1798.8M3316.4 1788.7H3336.6M3339.5 1778.6V1798.8M3329.4 1788.7H3349.6M3350.2 1778.6V1798.8M3340.1 1788.7H3360.3M3362.5 1778.6V1798.8M3352.4 1788.7H3372.6M3380.9 1778.6V1798.8M3370.8 1788.7H3391M3383.7 1778.6V1798.8M3373.6 1788.7H3393.8M3398.6 1778.6V1798.8M3388.5 1788.7H3408.7M3404.5 1778.6V1798.8M3394.4 1788.7H3414.6M3423.9 1778.6V1798.8M3413.8 1788.7H3434M3496 1778.6V1798.8M3485.9 1788.7H3506.1M3517 1778.6V1798.8M3506.9 1788.7H3527.1M3584.2 1778.6V1798.8M3574.1 1788.7H3594.3M3607.3 1778.6V1798.8M3597.2 1788.7H3617.4M3659.1 1778.6V1798.8M3649 1788.7H3669.2" fill="none" stroke="#CC0000" stroke-width="3.5"/>
<path d="M2783.6 1468.5V1488.7M2773.5 1478.6H2793.7M2905.8 1566.6V1586.8M2895.7 1576.7H2915.9M2953.1 1574.9V1595.1M2943 1585H2963.2M3203.2 1600.6V1620.8M3193.1 1610.7H3213.3M3223.7 1609.3V1629.5M3213.6 1619.4H3233.8M3228.4 1609.3V1629.5M3218.3 1619.4H3238.5M3259.2 1609.3V1629.5M3249.1 1619.4H3269.3M3284.7 1609.3V1629.5M3274.6 1619.4H3294.8M3297 1609.3V1629.5M3286.9 1619.4H3307.1M3324.2 1609.3V1629.5M3314.1 1619.4H3334.3M3347.3 1609.3V1629.5M3337.2 1619.4H3357.4M3349.7 1609.3V1629.5M3339.6 1619.4H3359.8M3411.6 1609.3V1629.5M3401.5 1619.4H3421.7M3425.8 1609.3V1629.5M3415.7 1619.4H3435.9M3429.3 1609.3V1629.5M3419.2 1619.4H3439.4M3434.1 1609.3V1629.5M3424 1619.4H3444.2M3436.4 1609.3V1629.5M3426.3 1619.4H3446.5M3443.5 1609.3V1629.5M3433.4 1619.4H3453.6M3466.5 1609.3V1629.5M3456.4 1619.4H3476.6M3496 1609.3V1629.5M3485.9 1619.4H3506.1M3500.2 1609.3V1629.5M3490.1 1619.4H3510.3M3510.8 1609.3V1629.5M3500.7 1619.4H3520.9M3519.4 1609.3V1629.5M3509.3 1619.4H3529.5M3535.4 1609.3V1629.5M3525.3 1619.4H3545.5M3573.6 1609.3V1629.5M3563.5 1619.4H3583.7M3577.8 1609.3V1629.5M3567.7 1619.4H3587.9M3605.6 1609.3V1629.5M3595.5 1619.4H3615.7M3609.3 1609.3V1629.5M3599.2 1619.4H3619.4M3624.1 1609.3V1629.5M3614 1619.4H3634.2M3631.5 1609.3V1629.5M3621.4 1619.4H3641.6M3634.7 1609.3V1629.5M3624.6 1619.4H3644.8M3643.8 1609.3V1629.5M3633.7 1619.4H3653.9M3667.7 1609.3V1629.5M3657.6 1619.4H3677.8M3769.4 1609.3V1629.5M3759.3 1619.4H3779.5M3778 1609.3V1629.5M3767.9 1619.4H3788.1M3895.8 1609.3V1629.5M3885.7 1619.4H3905.9" fill="none" stroke="#104E8B" stroke-width="3.5"/>
<line x1="2630.4" y1="1425.6" x2="2630.4" y2="2000.6" stroke="#000" stroke-width="3"/>
<line x1="2628.9" y1="1999.1" x2="3949" y2="1999.1" stroke="#000" stroke-width="3"/>
<line x1="2620.9" y1="1973.7" x2="2630.4" y2="1973.7" stroke="#000" stroke-width="3"/>
<text class="ss" x="2611" y="1986.6" font-size="37" text-anchor="end">0.00</text>
<line x1="2620.9" y1="1843" x2="2630.4" y2="1843" stroke="#000" stroke-width="3"/>
<text class="ss" x="2611" y="1855.9" font-size="37" text-anchor="end">0.25</text>
<line x1="2620.9" y1="1712.3" x2="2630.4" y2="1712.3" stroke="#000" stroke-width="3"/>
<text class="ss" x="2611" y="1725.2" font-size="37" text-anchor="end">0.50</text>
<line x1="2620.9" y1="1581.6" x2="2630.4" y2="1581.6" stroke="#000" stroke-width="3"/>
<text class="ss" x="2611" y="1594.5" font-size="37" text-anchor="end">0.75</text>
<line x1="2620.9" y1="1450.9" x2="2630.4" y2="1450.9" stroke="#000" stroke-width="3"/>
<text class="ss" x="2611" y="1463.8" font-size="37" text-anchor="end">1.00</text>
<line x1="2689.8" y1="1999.1" x2="2689.8" y2="2008.2" stroke="#000" stroke-width="3"/>
<text class="ss" x="2689.8" y="2043.4" font-size="37" text-anchor="middle">0</text>
<line x1="2989.5" y1="1999.1" x2="2989.5" y2="2008.2" stroke="#000" stroke-width="3"/>
<text class="ss" x="2989.5" y="2043.4" font-size="37" text-anchor="middle">1000</text>
<line x1="3289.2" y1="1999.1" x2="3289.2" y2="2008.2" stroke="#000" stroke-width="3"/>
<text class="ss" x="3289.2" y="2043.4" font-size="37" text-anchor="middle">2000</text>
<line x1="3589" y1="1999.1" x2="3589" y2="2008.2" stroke="#000" stroke-width="3"/>
<text class="ss" x="3589" y="2043.4" font-size="37" text-anchor="middle">3000</text>
<line x1="3888.7" y1="1999.1" x2="3888.7" y2="2008.2" stroke="#000" stroke-width="3"/>
<text class="ss" x="3888.7" y="2043.4" font-size="37" text-anchor="middle">4000</text>
<text class="ss" x="3289.2" y="2091.5" font-size="44" text-anchor="middle">Time (day)</text>
<text class="ss" font-size="44" text-anchor="middle" transform="translate(2440.5 1711) rotate(-90)">OS probability</text>
<text class="ss" x="2714" y="1884.2" font-size="44">p = 0.00033</text>
<text class="ss" x="3075" y="1351" font-size="26">Train</text>
<rect x="3188.6" y="1316.8" width="49.1" height="49.1" fill="#CC0000" fill-opacity="0.3"/>
<line x1="3191.8" y1="1340.7" x2="3234.6" y2="1340.7" stroke="#CC0000" stroke-width="6.8"/>
<line x1="3213.2" y1="1326.7" x2="3213.2" y2="1347.3" stroke="#CC0000" stroke-width="4.3"/>
<text class="ss" x="3255" y="1351" font-size="28.7">high-risk</text>
<rect x="3384.6" y="1316.8" width="49.1" height="49.1" fill="#104E8B" fill-opacity="0.3"/>
<line x1="3387.8" y1="1340.7" x2="3430.6" y2="1340.7" stroke="#104E8B" stroke-width="6.8"/>
<line x1="3409.2" y1="1326.7" x2="3409.2" y2="1347.3" stroke="#104E8B" stroke-width="4.3"/>
<text class="ss" x="3450.7" y="1351" font-size="28.7">low-risk</text>
<text class="ss" x="2631" y="2174.3" font-size="49.5">Number at risk</text>
<line x1="2630.7" y1="2205.9" x2="2630.7" y2="2282.5" stroke="#000" stroke-width="3"/>
<line x1="2629.2" y1="2281" x2="3949" y2="2281" stroke="#000" stroke-width="3"/>
<line x1="2620.9" y1="2225.7" x2="2630.7" y2="2225.7" stroke="#000" stroke-width="3"/>
<line x1="2620.9" y1="2259.9" x2="2630.7" y2="2259.9" stroke="#000" stroke-width="3"/>
<text class="ss" x="2604.3" y="2234.2" font-size="37.3" text-anchor="end" fill="#CC0000">high-risk</text>
<text class="ss" x="2604.3" y="2268.4" font-size="37.3" text-anchor="end" fill="#104E8B">low-risk</text>
<text class="ss" x="2689.8" y="2239" font-size="38.5" text-anchor="middle">66</text>
<text class="ss" x="2689.8" y="2272.8" font-size="38.5" text-anchor="middle">65</text>
<line x1="2689.8" y1="2281" x2="2689.8" y2="2290" stroke="#000" stroke-width="3"/>
<text class="ss" x="2689.8" y="2323.8" font-size="37" text-anchor="middle">0</text>
<text class="ss" x="2989.5" y="2239" font-size="38.5" text-anchor="middle">31</text>
<text class="ss" x="2989.5" y="2272.8" font-size="38.5" text-anchor="middle">45</text>
<line x1="2989.5" y1="2281" x2="2989.5" y2="2290" stroke="#000" stroke-width="3"/>
<text class="ss" x="2989.5" y="2323.8" font-size="37" text-anchor="middle">1000</text>
<text class="ss" x="3289.2" y="2239" font-size="38.5" text-anchor="middle">18</text>
<text class="ss" x="3289.2" y="2272.8" font-size="38.5" text-anchor="middle">36</text>
<line x1="3289.2" y1="2281" x2="3289.2" y2="2290" stroke="#000" stroke-width="3"/>
<text class="ss" x="3289.2" y="2323.8" font-size="37" text-anchor="middle">2000</text>
<text class="ss" x="3589" y="2239" font-size="38.5" text-anchor="middle">2</text>
<text class="ss" x="3589" y="2272.8" font-size="38.5" text-anchor="middle">12</text>
<line x1="3589" y1="2281" x2="3589" y2="2290" stroke="#000" stroke-width="3"/>
<text class="ss" x="3589" y="2323.8" font-size="37" text-anchor="middle">3000</text>
<text class="ss" x="3888.7" y="2239" font-size="38.5" text-anchor="middle">0</text>
<text class="ss" x="3888.7" y="2272.8" font-size="38.5" text-anchor="middle">1</text>
<line x1="3888.7" y1="2281" x2="3888.7" y2="2290" stroke="#000" stroke-width="3"/>
<text class="ss" x="3888.7" y="2323.8" font-size="37" text-anchor="middle">4000</text>
<text class="ss" x="3289.2" y="2372" font-size="44" text-anchor="middle">Time (day)</text>
<text class="ss" font-size="42" text-anchor="middle" transform="translate(2440 2239) rotate(-90)">Train</text>
</g>
<g id="panelF">
<text class="ss" x="2322.4" y="2522" font-size="75" font-weight="bold" letter-spacing="-0.3">(F)</text>
<text class="ss" x="3234" y="2527.2" font-size="45.7" text-anchor="middle" font-weight="bold">Train−TARGET−AML</text>
<line x1="2612.7" y1="3821.3" x2="3855.3" y2="2716.1" stroke="#000" stroke-width="2.2"/>
<path d="M2657.6 3781.2 L2668.3 3781.2 L2668.3 3717.9 L2687.9 3717.9 L2687.9 3590.3 L2757 3590.3 L2757 3527.5 L2798.8 3527.5 L2798.8 3398.3 L2848 3398.3 L2848.6 3270.9 L3149.6 3270.9 L3149.6 3206.4 L3189.2 3206.4 L3189.2 3142.5 L3198.7 3142.5 L3198.7 3078.9 L3297.1 3078.9 L3298.2 3074.5 L3328.2 3074.5 L3328.2 3012 L3368.9 3012 L3368.9 2948.1 L3418.7 2948.1 L3418.7 2884 L3558.7 2884 L3558.7 2820.5 L3759.6 2820.5 L3759.6 2757 L3810.1 2757" fill="none" stroke="#FF4500" stroke-width="6" stroke-linejoin="round" stroke-linecap="round"/>
<path d="M2657.6 3781.2 L2657.6 3734.2 L2681.9 3734.2 L2681.9 3685.9 L2724.3 3685.9 L2724.3 3661.9 L2736.6 3661.9 L2736.6 3590.3 L2763.9 3590.3 L2763.9 3564.4 L2770.7 3564.4 L2770.7 3515.8 L2841.7 3515.8 L2841.7 3442 L2854 3442 L2854 3418.3 L2866.3 3418.3 L2866.3 3394.2 L2930.5 3394.2 L2930.5 3369.6 L2956.4 3369.6 L2956.4 3345.1 L3034.2 3345.1 L3034.1 3296.6 L3085.9 3296.6 L3085.9 3272.8 L3125 3272.8 L3125 3248.2 L3150.4 3248.2 L3150.4 3224.2 L3163.8 3224.2 L3163.8 3150.7 L3216.5 3150.7 L3216.5 3126.7 L3229.3 3126.7 L3229.3 3102.6 L3253.4 3102.6 L3262.9 3095.3 L3290.2 3095.3 L3289.1 3022.4 L3328.2 3022.4 L3328.2 2973.5 L3354.2 2973.5 L3354.2 2949.1 L3367.2 2949.1 L3367.2 2924.7 L3406.3 2924.7 L3406.3 2900.3 L3432.4 2900.3 L3432.4 2877.5 L3471.4 2877.5 L3471.4 2852.4 L3510.5 2852.4 L3510.5 2828.6 L3536.6 2828.6 L3536.6 2804.2 L3640.8 2804.2 L3640.8 2780.8 L3745 2780.8 L3745 2757 L3810.1 2757" fill="none" stroke="#FFCC00" stroke-width="6" stroke-linejoin="round" stroke-linecap="round"/>
<path d="M2657.6 3781.2 L2657.6 3742.4 L2687.4 3742.4 L2687.4 3704.2 L2717.4 3704.2 L2717.4 3664.6 L2731.1 3664.6 L2731.1 3608.6 L2762.5 3608.6 L2762.5 3586.8 L2776.2 3586.8 L2776.2 3508.9 L2819.9 3508.9 L2819.9 3450.2 L2834.9 3450.2 L2834.9 3431.1 L2848.5 3431.1 L2848.5 3412 L2878 3412 L2878 3371 L2892.2 3371 L2892.2 3332.2 L2907.3 3332.2 L2907.3 3313.1 L2995.5 3313.1 L2995.3 3274.2 L3039 3274.2 L3039 3234.6 L3054 3234.6 L3054 3215.4 L3069 3215.4 L3069 3175.8 L3089.5 3175.8 L3089.5 3156.7 L3099.1 3156.7 L3099.1 3098 L3156.4 3098 L3156.4 3078.9 L3170.1 3078.9 L3170.1 3058.4 L3201.5 3058.4 L3209.7 3049.7 L3239.7 3049.7 L3239.7 2991.5 L3250.6 2991.5 L3250.6 2972.4 L3268.4 2972.4 L3268.4 2932.8 L3297.1 2932.8 L3297.1 2913.7 L3298.8 2911.7 L3311.9 2911.7 L3311.9 2892.4 L3354.2 2892.4 L3354.2 2872.9 L3383.5 2872.9 L3383.5 2853.7 L3427.5 2853.7 L3427.5 2834.2 L3471.4 2834.2 L3471.4 2814.9 L3499.1 2814.9 L3499.1 2794.4 L3616.3 2794.4 L3616.3 2775.5 L3731.9 2775.5 L3731.9 2757 L3810.1 2757" fill="none" stroke="#A0FF30" stroke-width="6" stroke-linejoin="round" stroke-linecap="round"/>
<path d="M2657.6 3781.2 L2657.6 3750.6 L2691.5 3750.6 L2691.5 3697.4 L2706.5 3697.4 L2706.5 3596.3 L2739.3 3596.3 L2739.3 3579.1 L2755.7 3579.1 L2755.7 3511.7 L2804.8 3511.7 L2804.8 3461.1 L2822.6 3461.1 L2822.6 3444.7 L2839 3444.7 L2839 3410.6 L2854.5 3410.6 L2854.5 3376.5 L2870.9 3376.5 L2870.9 3342.3 L2887.3 3342.3 L2887.3 3309.6 L2968.7 3309.6 L2969.3 3276.9 L3018.5 3276.9 L3018.5 3242.8 L3034.9 3242.8 L3034.9 3225 L3052.6 3225 L3052.6 3190.9 L3069 3190.9 L3069 3174.5 L3085.4 3174.5 L3085.4 3106.2 L3133.2 3106.2 L3133.2 3089.8 L3149.6 3089.8 L3149.6 3072.9 L3181 3072.9 L3189.2 3063.9 L3222 3063.9 L3222 3013.3 L3238.3 3013.3 L3238.3 2997 L3254.7 2997 L3254.7 2962.8 L3287.5 2962.8 L3288.4 2895.4 L3320 2895.4 L3320 2878.4 L3353.5 2878.4 L3353.5 2861.2 L3402.4 2861.2 L3402.4 2843.9 L3452.5 2843.9 L3452.5 2828.6 L3461.7 2823.7 L3479.6 2823.7 L3479.6 2806.8 L3613.1 2806.8 L3613.1 2790.5 L3679.8 2790.5 L3679.8 2774.2 L3728.7 2774.2 L3728.7 2757 L3810.1 2757" fill="none" stroke="#7B68EE" stroke-width="6" stroke-linejoin="round" stroke-linecap="round"/>
<path d="M2657.6 3781.2 L2657.6 3750.6 L2692.9 3750.6 L2692.9 3701.5 L2709.2 3701.5 L2709.2 3601.8 L2743.4 3601.8 L2743.4 3585.4 L2759.8 3585.4 L2759.8 3519.9 L2810.3 3519.9 L2810.3 3439.3 L2826.7 3439.3 L2826.7 3407.3 L2843.1 3407.3 L2843.1 3373.7 L2859.5 3373.7 L2859.5 3341 L2877.2 3341 L2877.2 3309.6 L2966 3309.6 L2962.5 3276.9 L3013 3276.9 L3013 3244.7 L3029.4 3244.7 L3029.4 3227.7 L3047.2 3227.7 L3047.2 3195 L3062.7 3195 L3062.7 3178.6 L3079.1 3178.6 L3079.1 3111.7 L3130.5 3111.7 L3130.5 3095.3 L3146.9 3095.3 L3146.9 3078.9 L3179.6 3078.9 L3187.8 3070.7 L3222.8 3070.7 L3222.8 3020.2 L3239.2 3020.2 L3239.2 3005.1 L3256.6 3005.1 L3256.6 2972.4 L3290.8 2972.4 L3290.7 2906.8 L3324.9 2906.8 L3324.9 2892.1 L3357.5 2892.1 L3357.5 2875.8 L3408.6 2875.8 L3408.6 2859.6 L3460 2859.6 L3460 2843.3 L3471.4 2838.4 L3489.3 2838.4 L3489.3 2823.1 L3556.1 2823.1 L3556.1 2806.8 L3608.2 2806.8 L3608.2 2789.5 L3676.6 2789.5 L3676.6 2774.2 L3727 2774.2 L3727 2758.6 L3738.4 2756 L3810.1 2757" fill="none" stroke="#00CED1" stroke-width="6" stroke-linejoin="round" stroke-linecap="round"/>
<rect x="2612.7" y="2609.5" width="1242.6" height="1217.4" fill="none" stroke="#000" stroke-width="2.2"/>
<line x1="2657.7" y1="3826.9" x2="2657.7" y2="3851.5" stroke="#000" stroke-width="2.2"/>
<text class="ss" x="2657.7" y="3912" font-size="39.3" text-anchor="middle">0.0</text>
<line x1="2612.7" y1="3781.3" x2="2588.1" y2="3781.3" stroke="#000" stroke-width="2.2"/>
<text class="ss" font-size="39.3" text-anchor="middle" transform="translate(2555.7 3781.3) rotate(-90)">0.0</text>
<line x1="2888.1" y1="3826.9" x2="2888.1" y2="3851.5" stroke="#000" stroke-width="2.2"/>
<text class="ss" x="2888.1" y="3912" font-size="39.3" text-anchor="middle">0.2</text>
<line x1="2612.7" y1="3576.4" x2="2588.1" y2="3576.4" stroke="#000" stroke-width="2.2"/>
<text class="ss" font-size="39.3" text-anchor="middle" transform="translate(2555.7 3576.4) rotate(-90)">0.2</text>
<line x1="3118.4" y1="3826.9" x2="3118.4" y2="3851.5" stroke="#000" stroke-width="2.2"/>
<text class="ss" x="3118.4" y="3912" font-size="39.3" text-anchor="middle">0.4</text>
<line x1="2612.7" y1="3371.5" x2="2588.1" y2="3371.5" stroke="#000" stroke-width="2.2"/>
<text class="ss" font-size="39.3" text-anchor="middle" transform="translate(2555.7 3371.5) rotate(-90)">0.4</text>
<line x1="3348.8" y1="3826.9" x2="3348.8" y2="3851.5" stroke="#000" stroke-width="2.2"/>
<text class="ss" x="3348.8" y="3912" font-size="39.3" text-anchor="middle">0.6</text>
<line x1="2612.7" y1="3166.6" x2="2588.1" y2="3166.6" stroke="#000" stroke-width="2.2"/>
<text class="ss" font-size="39.3" text-anchor="middle" transform="translate(2555.7 3166.6) rotate(-90)">0.6</text>
<line x1="3579.1" y1="3826.9" x2="3579.1" y2="3851.5" stroke="#000" stroke-width="2.2"/>
<text class="ss" x="3579.1" y="3912" font-size="39.3" text-anchor="middle">0.8</text>
<line x1="2612.7" y1="2961.7" x2="2588.1" y2="2961.7" stroke="#000" stroke-width="2.2"/>
<text class="ss" font-size="39.3" text-anchor="middle" transform="translate(2555.7 2961.7) rotate(-90)">0.8</text>
<line x1="3809.5" y1="3826.9" x2="3809.5" y2="3851.5" stroke="#000" stroke-width="2.2"/>
<text class="ss" x="3809.5" y="3912" font-size="39.3" text-anchor="middle">1.0</text>
<line x1="2612.7" y1="2756.8" x2="2588.1" y2="2756.8" stroke="#000" stroke-width="2.2"/>
<text class="ss" font-size="39.3" text-anchor="middle" transform="translate(2555.7 2756.8) rotate(-90)">1.0</text>
<text class="ss" x="3234" y="4006" font-size="38.5" text-anchor="middle">False Positive rate</text>
<text class="ss" font-size="38.5" text-anchor="middle" transform="translate(2460.2 3218) rotate(-90)">True Positive rate</text>
<line x1="2998" y1="3590.9" x2="3069" y2="3590.9" stroke="#FF4500" stroke-width="4.2" stroke-linecap="round"/>
<text class="ss" x="3104.8" y="3605.6" font-size="39">AUC for 1−Year Survival: 0.64 (0.48−0.79)</text>
<line x1="2998" y1="3638.2" x2="3069" y2="3638.2" stroke="#FFCC00" stroke-width="4.2" stroke-linecap="round"/>
<text class="ss" x="3104.8" y="3652.9" font-size="39">AUC for 2−Year Survival: 0.63 (0.53−0.73)</text>
<line x1="2998" y1="3685.4" x2="3069" y2="3685.4" stroke="#A0FF30" stroke-width="4.2" stroke-linecap="round"/>
<text class="ss" x="3104.8" y="3700.3" font-size="39">AUC for 3−Year Survival: 0.68 (0.59−0.77)</text>
<line x1="2998" y1="3732.7" x2="3069" y2="3732.7" stroke="#7B68EE" stroke-width="4.2" stroke-linecap="round"/>
<text class="ss" x="3104.8" y="3747.7" font-size="39">AUC for 4−Year Survival: 0.69 (0.59−0.77)</text>
<line x1="2998" y1="3779.9" x2="3069" y2="3779.9" stroke="#00CED1" stroke-width="4.2" stroke-linecap="round"/>
<text class="ss" x="3104.8" y="3795" font-size="39">AUC for 5−Year Survival: 0.68 (0.60−0.77)</text>
</g>
</svg>
</body></html>
